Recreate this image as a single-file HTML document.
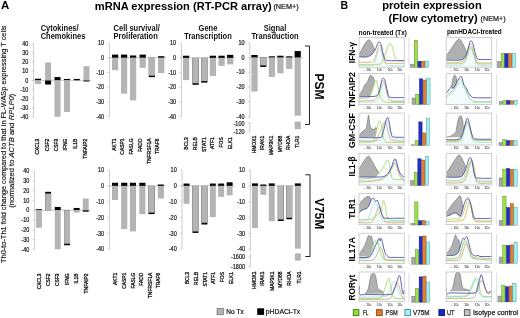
<!DOCTYPE html>
<html><head><meta charset="utf-8"><style>
html,body{margin:0;padding:0;background:#fff;width:520px;height:318px;overflow:hidden}
svg{display:block;font-family:"Liberation Sans", sans-serif}
</style></head><body>
<div style="width:520px;height:318px;will-change:transform"><svg width="520" height="318" viewBox="0 0 520 318">
<g>
<rect width="520" height="318" fill="#fff"/>
<text x="1.00" y="9.10" font-size="11.5" font-weight="bold" text-anchor="start" fill="#000">A</text>
<text x="94.80" y="9.60" font-size="11" font-weight="bold" text-anchor="start" fill="#000" textLength="177.00" lengthAdjust="spacingAndGlyphs">mRNA expression (RT-PCR array)</text>
<text x="273.40" y="9.40" font-size="6.3" text-anchor="start" fill="#222" stroke="#222" stroke-width="0.2" textLength="25.40" lengthAdjust="spacingAndGlyphs">(NEM+)</text>
<text x="340.40" y="9.20" font-size="10.5" font-weight="bold" text-anchor="start" fill="#000">B</text>
<text x="382.20" y="8.50" font-size="11" font-weight="bold" text-anchor="start" fill="#000" textLength="99.50" lengthAdjust="spacingAndGlyphs">protein expression</text>
<text x="388.60" y="21.80" font-size="11" font-weight="bold" text-anchor="start" fill="#000" textLength="89.00" lengthAdjust="spacingAndGlyphs">(Flow cytometry)</text>
<text x="480.60" y="21.40" font-size="6.3" text-anchor="start" fill="#222" stroke="#222" stroke-width="0.2" textLength="25.00" lengthAdjust="spacingAndGlyphs">(NEM+)</text>
<text x="5.60" y="263.00" font-size="7.2" text-anchor="start" fill="#111" stroke="#111" stroke-width="0.15" transform="rotate(-90 5.60 263.00)" textLength="237.50" lengthAdjust="spacingAndGlyphs">Th0-to-Th1 fold change compared to that in FL-WASp expressing T cells</text>
<text x="13.6" y="207.7" font-size="7.2" fill="#111" stroke="#111" stroke-width="0.15" transform="rotate(-90 13.6 207.7)" textLength="114" lengthAdjust="spacingAndGlyphs">(normalized to <tspan font-style="italic">ACTB</tspan> and <tspan font-style="italic">RPLP0</tspan>)</text>
<text x="40.70" y="30.50" font-size="8.2" font-weight="bold" text-anchor="start" fill="#111" textLength="37.94" lengthAdjust="spacingAndGlyphs">Cytokines/</text>
<text x="40.70" y="39.20" font-size="8.2" font-weight="bold" text-anchor="start" fill="#111" textLength="44.62" lengthAdjust="spacingAndGlyphs">Chemokines</text>
<text x="113.60" y="30.50" font-size="8.2" font-weight="bold" text-anchor="start" fill="#111" textLength="46.29" lengthAdjust="spacingAndGlyphs">Cell survival/</text>
<text x="113.60" y="39.20" font-size="8.2" font-weight="bold" text-anchor="start" fill="#111" textLength="44.19" lengthAdjust="spacingAndGlyphs">Proliferation</text>
<text x="208.00" y="30.50" font-size="8.2" font-weight="bold" text-anchor="middle" fill="#111" textLength="18.76" lengthAdjust="spacingAndGlyphs">Gene</text>
<text x="208.00" y="39.20" font-size="8.2" font-weight="bold" text-anchor="middle" fill="#111" textLength="47.53" lengthAdjust="spacingAndGlyphs">Transcription</text>
<text x="275.00" y="30.50" font-size="8.2" font-weight="bold" text-anchor="middle" fill="#111" textLength="22.51" lengthAdjust="spacingAndGlyphs">Signal</text>
<text x="275.00" y="39.20" font-size="8.2" font-weight="bold" text-anchor="middle" fill="#111" textLength="47.11" lengthAdjust="spacingAndGlyphs">Transduction</text>
<line x1="33.60" y1="43.62" x2="33.60" y2="116.98" stroke="#b8b8b8" stroke-width="0.7"/>
<line x1="31.60" y1="43.62" x2="33.60" y2="43.62" stroke="#b8b8b8" stroke-width="0.6"/>
<text x="28.30" y="45.82" font-size="6.3" text-anchor="end" fill="#111" stroke="#111" stroke-width="0.18" textLength="6.10" lengthAdjust="spacingAndGlyphs">40</text>
<line x1="31.60" y1="52.79" x2="33.60" y2="52.79" stroke="#b8b8b8" stroke-width="0.6"/>
<text x="28.30" y="54.99" font-size="6.3" text-anchor="end" fill="#111" stroke="#111" stroke-width="0.18" textLength="6.10" lengthAdjust="spacingAndGlyphs">30</text>
<line x1="31.60" y1="61.96" x2="33.60" y2="61.96" stroke="#b8b8b8" stroke-width="0.6"/>
<text x="28.30" y="64.16" font-size="6.3" text-anchor="end" fill="#111" stroke="#111" stroke-width="0.18" textLength="6.10" lengthAdjust="spacingAndGlyphs">20</text>
<line x1="31.60" y1="71.13" x2="33.60" y2="71.13" stroke="#b8b8b8" stroke-width="0.6"/>
<text x="28.30" y="73.33" font-size="6.3" text-anchor="end" fill="#111" stroke="#111" stroke-width="0.18" textLength="6.10" lengthAdjust="spacingAndGlyphs">10</text>
<line x1="31.60" y1="80.30" x2="33.60" y2="80.30" stroke="#b8b8b8" stroke-width="0.6"/>
<text x="28.30" y="82.50" font-size="6.3" text-anchor="end" fill="#111" stroke="#111" stroke-width="0.18" textLength="3.05" lengthAdjust="spacingAndGlyphs">0</text>
<line x1="31.60" y1="89.47" x2="33.60" y2="89.47" stroke="#b8b8b8" stroke-width="0.6"/>
<text x="28.30" y="91.67" font-size="6.3" text-anchor="end" fill="#111" stroke="#111" stroke-width="0.18" textLength="7.92" lengthAdjust="spacingAndGlyphs">-10</text>
<line x1="31.60" y1="98.64" x2="33.60" y2="98.64" stroke="#b8b8b8" stroke-width="0.6"/>
<text x="28.30" y="100.84" font-size="6.3" text-anchor="end" fill="#111" stroke="#111" stroke-width="0.18" textLength="7.92" lengthAdjust="spacingAndGlyphs">-20</text>
<line x1="31.60" y1="107.81" x2="33.60" y2="107.81" stroke="#b8b8b8" stroke-width="0.6"/>
<text x="28.30" y="110.01" font-size="6.3" text-anchor="end" fill="#111" stroke="#111" stroke-width="0.18" textLength="7.92" lengthAdjust="spacingAndGlyphs">-30</text>
<line x1="31.60" y1="116.98" x2="33.60" y2="116.98" stroke="#b8b8b8" stroke-width="0.6"/>
<text x="28.30" y="119.18" font-size="6.3" text-anchor="end" fill="#111" stroke="#111" stroke-width="0.18" textLength="7.92" lengthAdjust="spacingAndGlyphs">-40</text>
<line x1="33.60" y1="80.30" x2="91.50" y2="80.30" stroke="#a0a0a0" stroke-width="0.6"/>
<rect x="35.00" y="78.74" width="6.00" height="1.56" fill="#000"/>
<rect x="35.00" y="80.30" width="6.00" height="3.67" fill="#b4b4b4"/>
<rect x="45.10" y="80.30" width="6.00" height="4.22" fill="#000"/>
<rect x="45.10" y="62.42" width="6.00" height="17.88" fill="#b4b4b4"/>
<rect x="54.50" y="77.09" width="6.00" height="3.21" fill="#000"/>
<rect x="54.50" y="80.30" width="6.00" height="36.50" fill="#b4b4b4"/>
<rect x="64.00" y="78.92" width="6.00" height="1.38" fill="#000"/>
<rect x="64.00" y="80.30" width="6.00" height="31.64" fill="#b4b4b4"/>
<rect x="73.80" y="78.92" width="6.00" height="1.38" fill="#000"/>
<rect x="73.80" y="80.30" width="6.00" height="0.00" fill="#b4b4b4"/>
<rect x="83.50" y="80.30" width="6.00" height="1.19" fill="#000"/>
<rect x="83.50" y="66.18" width="6.00" height="14.12" fill="#b4b4b4"/>
<text x="39.45" y="138.70" font-size="5.6" text-anchor="end" fill="#111" stroke="#111" stroke-width="0.3" transform="rotate(-90 39.45 138.70)" textLength="15.89" lengthAdjust="spacingAndGlyphs">CXCL3</text>
<text x="48.65" y="138.70" font-size="5.6" text-anchor="end" fill="#111" stroke="#111" stroke-width="0.3" transform="rotate(-90 48.65 138.70)" textLength="12.60" lengthAdjust="spacingAndGlyphs">CSF2</text>
<text x="58.25" y="138.70" font-size="5.6" text-anchor="end" fill="#111" stroke="#111" stroke-width="0.3" transform="rotate(-90 58.25 138.70)" textLength="12.60" lengthAdjust="spacingAndGlyphs">CSF3</text>
<text x="67.35" y="138.70" font-size="5.6" text-anchor="end" fill="#111" stroke="#111" stroke-width="0.3" transform="rotate(-90 67.35 138.70)" textLength="11.77" lengthAdjust="spacingAndGlyphs">IFNG</text>
<text x="77.15" y="138.70" font-size="5.6" text-anchor="end" fill="#111" stroke="#111" stroke-width="0.3" transform="rotate(-90 77.15 138.70)" textLength="10.14" lengthAdjust="spacingAndGlyphs">IL1B</text>
<text x="86.55" y="138.70" font-size="5.6" text-anchor="end" fill="#111" stroke="#111" stroke-width="0.3" transform="rotate(-90 86.55 138.70)" textLength="19.99" lengthAdjust="spacingAndGlyphs">TNFAIP2</text>
<line x1="109.40" y1="43.12" x2="109.40" y2="116.52" stroke="#b8b8b8" stroke-width="0.7"/>
<line x1="107.40" y1="43.12" x2="109.40" y2="43.12" stroke="#b8b8b8" stroke-width="0.6"/>
<text x="104.10" y="45.32" font-size="6.3" text-anchor="end" fill="#111" stroke="#111" stroke-width="0.18" textLength="6.10" lengthAdjust="spacingAndGlyphs">10</text>
<line x1="107.40" y1="57.80" x2="109.40" y2="57.80" stroke="#b8b8b8" stroke-width="0.6"/>
<text x="104.10" y="60.00" font-size="6.3" text-anchor="end" fill="#111" stroke="#111" stroke-width="0.18" textLength="3.05" lengthAdjust="spacingAndGlyphs">0</text>
<line x1="107.40" y1="72.48" x2="109.40" y2="72.48" stroke="#b8b8b8" stroke-width="0.6"/>
<text x="104.10" y="74.68" font-size="6.3" text-anchor="end" fill="#111" stroke="#111" stroke-width="0.18" textLength="7.92" lengthAdjust="spacingAndGlyphs">-10</text>
<line x1="107.40" y1="87.16" x2="109.40" y2="87.16" stroke="#b8b8b8" stroke-width="0.6"/>
<text x="104.10" y="89.36" font-size="6.3" text-anchor="end" fill="#111" stroke="#111" stroke-width="0.18" textLength="7.92" lengthAdjust="spacingAndGlyphs">-20</text>
<line x1="107.40" y1="101.84" x2="109.40" y2="101.84" stroke="#b8b8b8" stroke-width="0.6"/>
<text x="104.10" y="104.04" font-size="6.3" text-anchor="end" fill="#111" stroke="#111" stroke-width="0.18" textLength="7.92" lengthAdjust="spacingAndGlyphs">-30</text>
<line x1="107.40" y1="116.52" x2="109.40" y2="116.52" stroke="#b8b8b8" stroke-width="0.6"/>
<text x="104.10" y="118.72" font-size="6.3" text-anchor="end" fill="#111" stroke="#111" stroke-width="0.18" textLength="7.92" lengthAdjust="spacingAndGlyphs">-40</text>
<line x1="109.40" y1="57.80" x2="166.30" y2="57.80" stroke="#a0a0a0" stroke-width="0.6"/>
<rect x="112.00" y="54.61" width="6.20" height="3.19" fill="#000"/>
<rect x="112.00" y="57.80" width="6.20" height="12.34" fill="#b4b4b4"/>
<rect x="121.00" y="54.61" width="6.20" height="3.19" fill="#000"/>
<rect x="121.00" y="57.80" width="6.20" height="35.86" fill="#b4b4b4"/>
<rect x="130.00" y="55.48" width="6.20" height="2.32" fill="#000"/>
<rect x="130.00" y="57.80" width="6.20" height="42.54" fill="#b4b4b4"/>
<rect x="139.60" y="54.61" width="6.20" height="3.19" fill="#000"/>
<rect x="139.60" y="57.80" width="6.20" height="10.02" fill="#b4b4b4"/>
<rect x="148.80" y="57.80" width="6.20" height="19.36" fill="#000"/>
<rect x="148.80" y="57.80" width="6.20" height="17.86" fill="#b4b4b4"/>
<rect x="158.10" y="56.20" width="6.20" height="1.60" fill="#000"/>
<rect x="158.10" y="57.80" width="6.20" height="15.25" fill="#b4b4b4"/>
<text x="115.75" y="138.50" font-size="5.6" text-anchor="end" fill="#111" stroke="#111" stroke-width="0.3" transform="rotate(-90 115.75 138.50)" textLength="12.32" lengthAdjust="spacingAndGlyphs">AKT1</text>
<text x="124.25" y="138.50" font-size="5.6" text-anchor="end" fill="#111" stroke="#111" stroke-width="0.3" transform="rotate(-90 124.25 138.50)" textLength="16.16" lengthAdjust="spacingAndGlyphs">CASP1</text>
<text x="132.95" y="138.50" font-size="5.6" text-anchor="end" fill="#111" stroke="#111" stroke-width="0.3" transform="rotate(-90 132.95 138.50)" textLength="15.89" lengthAdjust="spacingAndGlyphs">FASLG</text>
<text x="141.65" y="138.50" font-size="5.6" text-anchor="end" fill="#111" stroke="#111" stroke-width="0.3" transform="rotate(-90 141.65 138.50)" textLength="13.14" lengthAdjust="spacingAndGlyphs">FADD</text>
<text x="150.75" y="138.50" font-size="5.6" text-anchor="end" fill="#111" stroke="#111" stroke-width="0.3" transform="rotate(-90 150.75 138.50)" textLength="25.46" lengthAdjust="spacingAndGlyphs">TNFRSF1A</text>
<text x="159.45" y="138.50" font-size="5.6" text-anchor="end" fill="#111" stroke="#111" stroke-width="0.3" transform="rotate(-90 159.45 138.50)" textLength="15.61" lengthAdjust="spacingAndGlyphs">TRAF6</text>
<line x1="181.40" y1="43.22" x2="181.40" y2="116.62" stroke="#b8b8b8" stroke-width="0.7"/>
<line x1="179.40" y1="43.22" x2="181.40" y2="43.22" stroke="#b8b8b8" stroke-width="0.6"/>
<text x="176.10" y="45.42" font-size="6.3" text-anchor="end" fill="#111" stroke="#111" stroke-width="0.18" textLength="6.10" lengthAdjust="spacingAndGlyphs">10</text>
<line x1="179.40" y1="57.90" x2="181.40" y2="57.90" stroke="#b8b8b8" stroke-width="0.6"/>
<text x="176.10" y="60.10" font-size="6.3" text-anchor="end" fill="#111" stroke="#111" stroke-width="0.18" textLength="3.05" lengthAdjust="spacingAndGlyphs">0</text>
<line x1="179.40" y1="72.58" x2="181.40" y2="72.58" stroke="#b8b8b8" stroke-width="0.6"/>
<text x="176.10" y="74.78" font-size="6.3" text-anchor="end" fill="#111" stroke="#111" stroke-width="0.18" textLength="7.92" lengthAdjust="spacingAndGlyphs">-10</text>
<line x1="179.40" y1="87.26" x2="181.40" y2="87.26" stroke="#b8b8b8" stroke-width="0.6"/>
<text x="176.10" y="89.46" font-size="6.3" text-anchor="end" fill="#111" stroke="#111" stroke-width="0.18" textLength="7.92" lengthAdjust="spacingAndGlyphs">-20</text>
<line x1="179.40" y1="101.94" x2="181.40" y2="101.94" stroke="#b8b8b8" stroke-width="0.6"/>
<text x="176.10" y="104.14" font-size="6.3" text-anchor="end" fill="#111" stroke="#111" stroke-width="0.18" textLength="7.92" lengthAdjust="spacingAndGlyphs">-30</text>
<line x1="179.40" y1="116.62" x2="181.40" y2="116.62" stroke="#b8b8b8" stroke-width="0.6"/>
<text x="176.10" y="118.82" font-size="6.3" text-anchor="end" fill="#111" stroke="#111" stroke-width="0.18" textLength="7.92" lengthAdjust="spacingAndGlyphs">-40</text>
<line x1="181.40" y1="57.90" x2="235.30" y2="57.90" stroke="#a0a0a0" stroke-width="0.6"/>
<rect x="183.00" y="55.72" width="6.20" height="2.18" fill="#000"/>
<rect x="183.00" y="57.90" width="6.20" height="22.22" fill="#b4b4b4"/>
<rect x="192.50" y="57.90" width="6.20" height="26.91" fill="#000"/>
<rect x="192.50" y="57.90" width="6.20" height="25.41" fill="#b4b4b4"/>
<rect x="201.20" y="57.90" width="6.20" height="24.73" fill="#000"/>
<rect x="201.20" y="57.90" width="6.20" height="23.23" fill="#b4b4b4"/>
<rect x="209.80" y="55.72" width="6.20" height="2.18" fill="#000"/>
<rect x="209.80" y="57.90" width="6.20" height="18.15" fill="#b4b4b4"/>
<rect x="218.50" y="55.72" width="6.20" height="2.18" fill="#000"/>
<rect x="218.50" y="57.90" width="6.20" height="7.99" fill="#b4b4b4"/>
<rect x="227.10" y="54.85" width="6.20" height="3.05" fill="#000"/>
<rect x="227.10" y="57.90" width="6.20" height="6.53" fill="#b4b4b4"/>
<text x="188.35" y="137.30" font-size="5.6" text-anchor="end" fill="#111" stroke="#111" stroke-width="0.3" transform="rotate(-90 188.35 137.30)" textLength="12.33" lengthAdjust="spacingAndGlyphs">BCL3</text>
<text x="196.55" y="137.30" font-size="5.6" text-anchor="end" fill="#111" stroke="#111" stroke-width="0.3" transform="rotate(-90 196.55 137.30)" textLength="12.87" lengthAdjust="spacingAndGlyphs">RELB</text>
<text x="205.55" y="137.30" font-size="5.6" text-anchor="end" fill="#111" stroke="#111" stroke-width="0.3" transform="rotate(-90 205.55 137.30)" textLength="14.60" lengthAdjust="spacingAndGlyphs">STAT1</text>
<text x="213.85" y="137.30" font-size="5.6" text-anchor="end" fill="#111" stroke="#111" stroke-width="0.3" transform="rotate(-90 213.85 137.30)" textLength="11.68" lengthAdjust="spacingAndGlyphs">ATF1</text>
<text x="222.85" y="137.30" font-size="5.6" text-anchor="end" fill="#111" stroke="#111" stroke-width="0.3" transform="rotate(-90 222.85 137.30)" textLength="10.13" lengthAdjust="spacingAndGlyphs">FOS</text>
<text x="231.95" y="137.30" font-size="5.6" text-anchor="end" fill="#111" stroke="#111" stroke-width="0.3" transform="rotate(-90 231.95 137.30)" textLength="12.06" lengthAdjust="spacingAndGlyphs">ELK1</text>
<line x1="249.80" y1="42.92" x2="249.80" y2="118.82" stroke="#b8b8b8" stroke-width="0.7"/>
<line x1="247.80" y1="42.92" x2="249.80" y2="42.92" stroke="#b8b8b8" stroke-width="0.6"/>
<text x="244.50" y="45.12" font-size="6.3" text-anchor="end" fill="#111" stroke="#111" stroke-width="0.18" textLength="6.10" lengthAdjust="spacingAndGlyphs">10</text>
<line x1="247.80" y1="57.60" x2="249.80" y2="57.60" stroke="#b8b8b8" stroke-width="0.6"/>
<text x="244.50" y="59.80" font-size="6.3" text-anchor="end" fill="#111" stroke="#111" stroke-width="0.18" textLength="3.05" lengthAdjust="spacingAndGlyphs">0</text>
<line x1="247.80" y1="72.28" x2="249.80" y2="72.28" stroke="#b8b8b8" stroke-width="0.6"/>
<text x="244.50" y="74.48" font-size="6.3" text-anchor="end" fill="#111" stroke="#111" stroke-width="0.18" textLength="7.92" lengthAdjust="spacingAndGlyphs">-10</text>
<line x1="247.80" y1="86.96" x2="249.80" y2="86.96" stroke="#b8b8b8" stroke-width="0.6"/>
<text x="244.50" y="89.16" font-size="6.3" text-anchor="end" fill="#111" stroke="#111" stroke-width="0.18" textLength="7.92" lengthAdjust="spacingAndGlyphs">-20</text>
<line x1="247.80" y1="101.64" x2="249.80" y2="101.64" stroke="#b8b8b8" stroke-width="0.6"/>
<text x="244.50" y="103.84" font-size="6.3" text-anchor="end" fill="#111" stroke="#111" stroke-width="0.18" textLength="7.92" lengthAdjust="spacingAndGlyphs">-30</text>
<line x1="247.80" y1="116.32" x2="249.80" y2="116.32" stroke="#b8b8b8" stroke-width="0.6"/>
<text x="244.50" y="118.52" font-size="6.3" text-anchor="end" fill="#111" stroke="#111" stroke-width="0.18" textLength="7.92" lengthAdjust="spacingAndGlyphs">-40</text>
<line x1="249.80" y1="57.60" x2="302.80" y2="57.60" stroke="#a0a0a0" stroke-width="0.6"/>
<rect x="251.40" y="54.99" width="6.20" height="2.61" fill="#000"/>
<rect x="251.40" y="57.60" width="6.20" height="33.98" fill="#b4b4b4"/>
<rect x="260.20" y="57.60" width="6.20" height="9.34" fill="#000"/>
<rect x="260.20" y="57.60" width="6.20" height="7.84" fill="#b4b4b4"/>
<rect x="268.80" y="56.29" width="6.20" height="1.31" fill="#000"/>
<rect x="268.80" y="57.60" width="6.20" height="19.31" fill="#b4b4b4"/>
<rect x="277.30" y="55.71" width="6.20" height="1.89" fill="#000"/>
<rect x="277.30" y="57.60" width="6.20" height="15.68" fill="#b4b4b4"/>
<rect x="286.10" y="56.29" width="6.20" height="1.31" fill="#000"/>
<rect x="286.10" y="57.60" width="6.20" height="11.33" fill="#b4b4b4"/>
<rect x="294.60" y="51.07" width="6.20" height="6.53" fill="#000"/>
<rect x="294.60" y="57.60" width="6.20" height="58.08" fill="#b4b4b4"/>
<line x1="249.80" y1="121.60" x2="249.80" y2="131.80" stroke="#b8b8b8" stroke-width="0.7"/>
<line x1="247.80" y1="123.30" x2="249.80" y2="123.30" stroke="#b8b8b8" stroke-width="0.6"/>
<text x="244.50" y="125.50" font-size="6.3" text-anchor="end" fill="#111" stroke="#111" stroke-width="0.18" textLength="10.97" lengthAdjust="spacingAndGlyphs">-100</text>
<line x1="247.80" y1="131.80" x2="249.80" y2="131.80" stroke="#b8b8b8" stroke-width="0.6"/>
<text x="244.50" y="134.00" font-size="6.3" text-anchor="end" fill="#111" stroke="#111" stroke-width="0.18" textLength="10.97" lengthAdjust="spacingAndGlyphs">-120</text>
<rect x="294.60" y="121.60" width="6.20" height="7.60" fill="#b4b4b4"/>
<text x="255.75" y="135.80" font-size="5.6" text-anchor="end" fill="#111" stroke="#111" stroke-width="0.3" transform="rotate(-90 255.75 135.80)" textLength="17.52" lengthAdjust="spacingAndGlyphs">HMOX1</text>
<text x="264.45" y="135.80" font-size="5.6" text-anchor="end" fill="#111" stroke="#111" stroke-width="0.3" transform="rotate(-90 264.45 135.80)" textLength="14.24" lengthAdjust="spacingAndGlyphs">IRAK1</text>
<text x="273.05" y="135.80" font-size="5.6" text-anchor="end" fill="#111" stroke="#111" stroke-width="0.3" transform="rotate(-90 273.05 135.80)" textLength="19.45" lengthAdjust="spacingAndGlyphs">MAP3K1</text>
<text x="281.75" y="135.80" font-size="5.6" text-anchor="end" fill="#111" stroke="#111" stroke-width="0.3" transform="rotate(-90 281.75 135.80)" textLength="16.43" lengthAdjust="spacingAndGlyphs">MYD88</text>
<text x="290.35" y="135.80" font-size="5.6" text-anchor="end" fill="#111" stroke="#111" stroke-width="0.3" transform="rotate(-90 290.35 135.80)" textLength="14.24" lengthAdjust="spacingAndGlyphs">RHOA</text>
<text x="299.05" y="135.80" font-size="5.6" text-anchor="end" fill="#111" stroke="#111" stroke-width="0.3" transform="rotate(-90 299.05 135.80)" textLength="12.05" lengthAdjust="spacingAndGlyphs">TLR1</text>
<line x1="34.60" y1="171.08" x2="34.60" y2="249.32" stroke="#b8b8b8" stroke-width="0.7"/>
<line x1="32.60" y1="171.08" x2="34.60" y2="171.08" stroke="#b8b8b8" stroke-width="0.6"/>
<text x="29.30" y="173.28" font-size="6.3" text-anchor="end" fill="#111" stroke="#111" stroke-width="0.18" textLength="6.10" lengthAdjust="spacingAndGlyphs">40</text>
<line x1="32.60" y1="180.86" x2="34.60" y2="180.86" stroke="#b8b8b8" stroke-width="0.6"/>
<text x="29.30" y="183.06" font-size="6.3" text-anchor="end" fill="#111" stroke="#111" stroke-width="0.18" textLength="6.10" lengthAdjust="spacingAndGlyphs">30</text>
<line x1="32.60" y1="190.64" x2="34.60" y2="190.64" stroke="#b8b8b8" stroke-width="0.6"/>
<text x="29.30" y="192.84" font-size="6.3" text-anchor="end" fill="#111" stroke="#111" stroke-width="0.18" textLength="6.10" lengthAdjust="spacingAndGlyphs">20</text>
<line x1="32.60" y1="200.42" x2="34.60" y2="200.42" stroke="#b8b8b8" stroke-width="0.6"/>
<text x="29.30" y="202.62" font-size="6.3" text-anchor="end" fill="#111" stroke="#111" stroke-width="0.18" textLength="6.10" lengthAdjust="spacingAndGlyphs">10</text>
<line x1="32.60" y1="210.20" x2="34.60" y2="210.20" stroke="#b8b8b8" stroke-width="0.6"/>
<text x="29.30" y="212.40" font-size="6.3" text-anchor="end" fill="#111" stroke="#111" stroke-width="0.18" textLength="3.05" lengthAdjust="spacingAndGlyphs">0</text>
<line x1="32.60" y1="219.98" x2="34.60" y2="219.98" stroke="#b8b8b8" stroke-width="0.6"/>
<text x="29.30" y="222.18" font-size="6.3" text-anchor="end" fill="#111" stroke="#111" stroke-width="0.18" textLength="7.92" lengthAdjust="spacingAndGlyphs">-10</text>
<line x1="32.60" y1="229.76" x2="34.60" y2="229.76" stroke="#b8b8b8" stroke-width="0.6"/>
<text x="29.30" y="231.96" font-size="6.3" text-anchor="end" fill="#111" stroke="#111" stroke-width="0.18" textLength="7.92" lengthAdjust="spacingAndGlyphs">-20</text>
<line x1="32.60" y1="239.54" x2="34.60" y2="239.54" stroke="#b8b8b8" stroke-width="0.6"/>
<text x="29.30" y="241.74" font-size="6.3" text-anchor="end" fill="#111" stroke="#111" stroke-width="0.18" textLength="7.92" lengthAdjust="spacingAndGlyphs">-30</text>
<line x1="32.60" y1="249.32" x2="34.60" y2="249.32" stroke="#b8b8b8" stroke-width="0.6"/>
<text x="29.30" y="251.52" font-size="6.3" text-anchor="end" fill="#111" stroke="#111" stroke-width="0.18" textLength="7.92" lengthAdjust="spacingAndGlyphs">-40</text>
<line x1="34.60" y1="210.20" x2="90.70" y2="210.20" stroke="#a0a0a0" stroke-width="0.6"/>
<rect x="36.00" y="209.22" width="5.90" height="0.98" fill="#000"/>
<rect x="36.00" y="210.20" width="5.90" height="17.60" fill="#b4b4b4"/>
<rect x="45.20" y="191.81" width="5.90" height="18.39" fill="#000"/>
<rect x="45.20" y="193.57" width="5.90" height="16.63" fill="#b4b4b4"/>
<rect x="54.80" y="206.97" width="5.90" height="3.23" fill="#000"/>
<rect x="54.80" y="210.20" width="5.90" height="39.12" fill="#b4b4b4"/>
<rect x="64.10" y="210.20" width="5.90" height="35.05" fill="#000"/>
<rect x="64.10" y="210.20" width="5.90" height="33.55" fill="#b4b4b4"/>
<rect x="73.70" y="207.95" width="5.90" height="2.25" fill="#000"/>
<rect x="73.70" y="210.20" width="5.90" height="2.44" fill="#b4b4b4"/>
<rect x="82.80" y="210.20" width="5.90" height="1.47" fill="#000"/>
<rect x="82.80" y="198.56" width="5.90" height="11.64" fill="#b4b4b4"/>
<text x="40.55" y="273.40" font-size="5.6" text-anchor="end" fill="#111" stroke="#111" stroke-width="0.3" transform="rotate(-90 40.55 273.40)" textLength="15.89" lengthAdjust="spacingAndGlyphs">CXCL3</text>
<text x="49.85" y="273.40" font-size="5.6" text-anchor="end" fill="#111" stroke="#111" stroke-width="0.3" transform="rotate(-90 49.85 273.40)" textLength="12.60" lengthAdjust="spacingAndGlyphs">CSF2</text>
<text x="59.35" y="273.40" font-size="5.6" text-anchor="end" fill="#111" stroke="#111" stroke-width="0.3" transform="rotate(-90 59.35 273.40)" textLength="12.60" lengthAdjust="spacingAndGlyphs">CSF3</text>
<text x="68.85" y="273.40" font-size="5.6" text-anchor="end" fill="#111" stroke="#111" stroke-width="0.3" transform="rotate(-90 68.85 273.40)" textLength="11.77" lengthAdjust="spacingAndGlyphs">IFNG</text>
<text x="78.05" y="273.40" font-size="5.6" text-anchor="end" fill="#111" stroke="#111" stroke-width="0.3" transform="rotate(-90 78.05 273.40)" textLength="10.14" lengthAdjust="spacingAndGlyphs">IL1B</text>
<text x="87.95" y="273.40" font-size="5.6" text-anchor="end" fill="#111" stroke="#111" stroke-width="0.3" transform="rotate(-90 87.95 273.40)" textLength="19.99" lengthAdjust="spacingAndGlyphs">TNFAIP2</text>
<line x1="109.40" y1="170.07" x2="109.40" y2="249.22" stroke="#b8b8b8" stroke-width="0.7"/>
<line x1="107.40" y1="170.07" x2="109.40" y2="170.07" stroke="#b8b8b8" stroke-width="0.6"/>
<text x="104.10" y="172.27" font-size="6.3" text-anchor="end" fill="#111" stroke="#111" stroke-width="0.18" textLength="6.10" lengthAdjust="spacingAndGlyphs">10</text>
<line x1="107.40" y1="185.90" x2="109.40" y2="185.90" stroke="#b8b8b8" stroke-width="0.6"/>
<text x="104.10" y="188.10" font-size="6.3" text-anchor="end" fill="#111" stroke="#111" stroke-width="0.18" textLength="3.05" lengthAdjust="spacingAndGlyphs">0</text>
<line x1="107.40" y1="201.73" x2="109.40" y2="201.73" stroke="#b8b8b8" stroke-width="0.6"/>
<text x="104.10" y="203.93" font-size="6.3" text-anchor="end" fill="#111" stroke="#111" stroke-width="0.18" textLength="7.92" lengthAdjust="spacingAndGlyphs">-10</text>
<line x1="107.40" y1="217.56" x2="109.40" y2="217.56" stroke="#b8b8b8" stroke-width="0.6"/>
<text x="104.10" y="219.76" font-size="6.3" text-anchor="end" fill="#111" stroke="#111" stroke-width="0.18" textLength="7.92" lengthAdjust="spacingAndGlyphs">-20</text>
<line x1="107.40" y1="233.39" x2="109.40" y2="233.39" stroke="#b8b8b8" stroke-width="0.6"/>
<text x="104.10" y="235.59" font-size="6.3" text-anchor="end" fill="#111" stroke="#111" stroke-width="0.18" textLength="7.92" lengthAdjust="spacingAndGlyphs">-30</text>
<line x1="107.40" y1="249.22" x2="109.40" y2="249.22" stroke="#b8b8b8" stroke-width="0.6"/>
<text x="104.10" y="251.42" font-size="6.3" text-anchor="end" fill="#111" stroke="#111" stroke-width="0.18" textLength="7.92" lengthAdjust="spacingAndGlyphs">-40</text>
<line x1="109.40" y1="185.90" x2="165.90" y2="185.90" stroke="#a0a0a0" stroke-width="0.6"/>
<rect x="112.00" y="182.76" width="6.10" height="3.14" fill="#000"/>
<rect x="112.00" y="185.90" width="6.10" height="14.13" fill="#b4b4b4"/>
<rect x="121.20" y="182.76" width="6.10" height="3.14" fill="#000"/>
<rect x="121.20" y="185.90" width="6.10" height="43.18" fill="#b4b4b4"/>
<rect x="129.90" y="182.76" width="6.10" height="3.14" fill="#000"/>
<rect x="129.90" y="185.90" width="6.10" height="45.53" fill="#b4b4b4"/>
<rect x="139.30" y="182.76" width="6.10" height="3.14" fill="#000"/>
<rect x="139.30" y="185.90" width="6.10" height="28.26" fill="#b4b4b4"/>
<rect x="148.50" y="185.90" width="6.10" height="28.19" fill="#000"/>
<rect x="148.50" y="185.90" width="6.10" height="26.69" fill="#b4b4b4"/>
<rect x="157.80" y="184.49" width="6.10" height="1.41" fill="#000"/>
<rect x="157.80" y="185.90" width="6.10" height="12.56" fill="#b4b4b4"/>
<text x="117.25" y="272.70" font-size="5.6" text-anchor="end" fill="#111" stroke="#111" stroke-width="0.3" transform="rotate(-90 117.25 272.70)" textLength="12.32" lengthAdjust="spacingAndGlyphs">AKT1</text>
<text x="125.55" y="272.70" font-size="5.6" text-anchor="end" fill="#111" stroke="#111" stroke-width="0.3" transform="rotate(-90 125.55 272.70)" textLength="16.16" lengthAdjust="spacingAndGlyphs">CASP1</text>
<text x="134.55" y="272.70" font-size="5.6" text-anchor="end" fill="#111" stroke="#111" stroke-width="0.3" transform="rotate(-90 134.55 272.70)" textLength="15.89" lengthAdjust="spacingAndGlyphs">FASLG</text>
<text x="143.15" y="272.70" font-size="5.6" text-anchor="end" fill="#111" stroke="#111" stroke-width="0.3" transform="rotate(-90 143.15 272.70)" textLength="13.14" lengthAdjust="spacingAndGlyphs">FADD</text>
<text x="151.85" y="272.70" font-size="5.6" text-anchor="end" fill="#111" stroke="#111" stroke-width="0.3" transform="rotate(-90 151.85 272.70)" textLength="25.46" lengthAdjust="spacingAndGlyphs">TNFRSF1A</text>
<text x="160.45" y="272.70" font-size="5.6" text-anchor="end" fill="#111" stroke="#111" stroke-width="0.3" transform="rotate(-90 160.45 272.70)" textLength="15.61" lengthAdjust="spacingAndGlyphs">TRAF6</text>
<line x1="182.00" y1="170.07" x2="182.00" y2="249.22" stroke="#b8b8b8" stroke-width="0.7"/>
<line x1="180.00" y1="170.07" x2="182.00" y2="170.07" stroke="#b8b8b8" stroke-width="0.6"/>
<text x="176.70" y="172.27" font-size="6.3" text-anchor="end" fill="#111" stroke="#111" stroke-width="0.18" textLength="6.10" lengthAdjust="spacingAndGlyphs">10</text>
<line x1="180.00" y1="185.90" x2="182.00" y2="185.90" stroke="#b8b8b8" stroke-width="0.6"/>
<text x="176.70" y="188.10" font-size="6.3" text-anchor="end" fill="#111" stroke="#111" stroke-width="0.18" textLength="3.05" lengthAdjust="spacingAndGlyphs">0</text>
<line x1="180.00" y1="201.73" x2="182.00" y2="201.73" stroke="#b8b8b8" stroke-width="0.6"/>
<text x="176.70" y="203.93" font-size="6.3" text-anchor="end" fill="#111" stroke="#111" stroke-width="0.18" textLength="7.92" lengthAdjust="spacingAndGlyphs">-10</text>
<line x1="180.00" y1="217.56" x2="182.00" y2="217.56" stroke="#b8b8b8" stroke-width="0.6"/>
<text x="176.70" y="219.76" font-size="6.3" text-anchor="end" fill="#111" stroke="#111" stroke-width="0.18" textLength="7.92" lengthAdjust="spacingAndGlyphs">-20</text>
<line x1="180.00" y1="233.39" x2="182.00" y2="233.39" stroke="#b8b8b8" stroke-width="0.6"/>
<text x="176.70" y="235.59" font-size="6.3" text-anchor="end" fill="#111" stroke="#111" stroke-width="0.18" textLength="7.92" lengthAdjust="spacingAndGlyphs">-30</text>
<line x1="180.00" y1="249.22" x2="182.00" y2="249.22" stroke="#b8b8b8" stroke-width="0.6"/>
<text x="176.70" y="251.42" font-size="6.3" text-anchor="end" fill="#111" stroke="#111" stroke-width="0.18" textLength="7.92" lengthAdjust="spacingAndGlyphs">-40</text>
<line x1="182.00" y1="185.90" x2="234.60" y2="185.90" stroke="#a0a0a0" stroke-width="0.6"/>
<rect x="183.60" y="183.55" width="5.90" height="2.35" fill="#000"/>
<rect x="183.60" y="185.90" width="5.90" height="17.90" fill="#b4b4b4"/>
<rect x="192.50" y="185.90" width="5.90" height="47.03" fill="#000"/>
<rect x="192.50" y="185.90" width="5.90" height="45.53" fill="#b4b4b4"/>
<rect x="201.50" y="185.90" width="5.90" height="38.62" fill="#000"/>
<rect x="201.50" y="185.90" width="5.90" height="36.90" fill="#b4b4b4"/>
<rect x="209.90" y="183.55" width="5.90" height="2.35" fill="#000"/>
<rect x="209.90" y="185.90" width="5.90" height="31.24" fill="#b4b4b4"/>
<rect x="218.20" y="183.55" width="5.90" height="2.35" fill="#000"/>
<rect x="218.20" y="185.90" width="5.90" height="10.99" fill="#b4b4b4"/>
<rect x="226.70" y="182.29" width="5.90" height="3.61" fill="#000"/>
<rect x="226.70" y="185.90" width="5.90" height="9.42" fill="#b4b4b4"/>
<text x="189.05" y="272.00" font-size="5.6" text-anchor="end" fill="#111" stroke="#111" stroke-width="0.3" transform="rotate(-90 189.05 272.00)" textLength="12.33" lengthAdjust="spacingAndGlyphs">BCL3</text>
<text x="197.55" y="272.00" font-size="5.6" text-anchor="end" fill="#111" stroke="#111" stroke-width="0.3" transform="rotate(-90 197.55 272.00)" textLength="12.87" lengthAdjust="spacingAndGlyphs">RELB</text>
<text x="206.65" y="272.00" font-size="5.6" text-anchor="end" fill="#111" stroke="#111" stroke-width="0.3" transform="rotate(-90 206.65 272.00)" textLength="14.60" lengthAdjust="spacingAndGlyphs">STAT1</text>
<text x="215.35" y="272.00" font-size="5.6" text-anchor="end" fill="#111" stroke="#111" stroke-width="0.3" transform="rotate(-90 215.35 272.00)" textLength="11.68" lengthAdjust="spacingAndGlyphs">ATF1</text>
<text x="224.05" y="272.00" font-size="5.6" text-anchor="end" fill="#111" stroke="#111" stroke-width="0.3" transform="rotate(-90 224.05 272.00)" textLength="10.13" lengthAdjust="spacingAndGlyphs">FOS</text>
<text x="232.95" y="272.00" font-size="5.6" text-anchor="end" fill="#111" stroke="#111" stroke-width="0.3" transform="rotate(-90 232.95 272.00)" textLength="12.06" lengthAdjust="spacingAndGlyphs">ELK1</text>
<line x1="250.30" y1="170.07" x2="250.30" y2="251.72" stroke="#b8b8b8" stroke-width="0.7"/>
<line x1="248.30" y1="170.07" x2="250.30" y2="170.07" stroke="#b8b8b8" stroke-width="0.6"/>
<text x="245.00" y="172.27" font-size="6.3" text-anchor="end" fill="#111" stroke="#111" stroke-width="0.18" textLength="6.10" lengthAdjust="spacingAndGlyphs">10</text>
<line x1="248.30" y1="185.90" x2="250.30" y2="185.90" stroke="#b8b8b8" stroke-width="0.6"/>
<text x="245.00" y="188.10" font-size="6.3" text-anchor="end" fill="#111" stroke="#111" stroke-width="0.18" textLength="3.05" lengthAdjust="spacingAndGlyphs">0</text>
<line x1="248.30" y1="201.73" x2="250.30" y2="201.73" stroke="#b8b8b8" stroke-width="0.6"/>
<text x="245.00" y="203.93" font-size="6.3" text-anchor="end" fill="#111" stroke="#111" stroke-width="0.18" textLength="7.92" lengthAdjust="spacingAndGlyphs">-10</text>
<line x1="248.30" y1="217.56" x2="250.30" y2="217.56" stroke="#b8b8b8" stroke-width="0.6"/>
<text x="245.00" y="219.76" font-size="6.3" text-anchor="end" fill="#111" stroke="#111" stroke-width="0.18" textLength="7.92" lengthAdjust="spacingAndGlyphs">-20</text>
<line x1="248.30" y1="233.39" x2="250.30" y2="233.39" stroke="#b8b8b8" stroke-width="0.6"/>
<text x="245.00" y="235.59" font-size="6.3" text-anchor="end" fill="#111" stroke="#111" stroke-width="0.18" textLength="7.92" lengthAdjust="spacingAndGlyphs">-30</text>
<line x1="248.30" y1="249.22" x2="250.30" y2="249.22" stroke="#b8b8b8" stroke-width="0.6"/>
<text x="245.00" y="251.42" font-size="6.3" text-anchor="end" fill="#111" stroke="#111" stroke-width="0.18" textLength="7.92" lengthAdjust="spacingAndGlyphs">-40</text>
<line x1="250.30" y1="185.90" x2="302.80" y2="185.90" stroke="#a0a0a0" stroke-width="0.6"/>
<rect x="252.00" y="183.39" width="5.90" height="2.51" fill="#000"/>
<rect x="252.00" y="185.90" width="5.90" height="42.08" fill="#b4b4b4"/>
<rect x="260.40" y="184.49" width="5.90" height="1.41" fill="#000"/>
<rect x="260.40" y="185.90" width="5.90" height="8.95" fill="#b4b4b4"/>
<rect x="268.80" y="183.39" width="5.90" height="2.51" fill="#000"/>
<rect x="268.80" y="185.90" width="5.90" height="35.33" fill="#b4b4b4"/>
<rect x="277.80" y="185.90" width="5.90" height="35.10" fill="#000"/>
<rect x="277.80" y="185.90" width="5.90" height="33.60" fill="#b4b4b4"/>
<rect x="286.30" y="185.90" width="5.90" height="33.37" fill="#000"/>
<rect x="286.30" y="185.90" width="5.90" height="31.87" fill="#b4b4b4"/>
<rect x="294.90" y="183.39" width="5.90" height="2.51" fill="#000"/>
<rect x="294.90" y="185.90" width="5.90" height="62.80" fill="#b4b4b4"/>
<line x1="250.30" y1="253.40" x2="250.30" y2="266.70" stroke="#b8b8b8" stroke-width="0.7"/>
<line x1="248.30" y1="257.10" x2="250.30" y2="257.10" stroke="#b8b8b8" stroke-width="0.6"/>
<text x="245.00" y="259.30" font-size="6.3" text-anchor="end" fill="#111" stroke="#111" stroke-width="0.18" textLength="14.02" lengthAdjust="spacingAndGlyphs">-1600</text>
<line x1="248.30" y1="266.70" x2="250.30" y2="266.70" stroke="#b8b8b8" stroke-width="0.6"/>
<text x="245.00" y="268.90" font-size="6.3" text-anchor="end" fill="#111" stroke="#111" stroke-width="0.18" textLength="14.02" lengthAdjust="spacingAndGlyphs">-1800</text>
<rect x="294.90" y="253.40" width="5.90" height="7.20" fill="#b4b4b4"/>
<text x="256.15" y="271.40" font-size="5.6" text-anchor="end" fill="#111" stroke="#111" stroke-width="0.3" transform="rotate(-90 256.15 271.40)" textLength="17.52" lengthAdjust="spacingAndGlyphs">HMOX1</text>
<text x="264.35" y="271.40" font-size="5.6" text-anchor="end" fill="#111" stroke="#111" stroke-width="0.3" transform="rotate(-90 264.35 271.40)" textLength="14.24" lengthAdjust="spacingAndGlyphs">IRAK1</text>
<text x="273.55" y="271.40" font-size="5.6" text-anchor="end" fill="#111" stroke="#111" stroke-width="0.3" transform="rotate(-90 273.55 271.40)" textLength="19.45" lengthAdjust="spacingAndGlyphs">MAP3K1</text>
<text x="282.15" y="271.40" font-size="5.6" text-anchor="end" fill="#111" stroke="#111" stroke-width="0.3" transform="rotate(-90 282.15 271.40)" textLength="16.43" lengthAdjust="spacingAndGlyphs">MYD88</text>
<text x="291.35" y="271.40" font-size="5.6" text-anchor="end" fill="#111" stroke="#111" stroke-width="0.3" transform="rotate(-90 291.35 271.40)" textLength="14.24" lengthAdjust="spacingAndGlyphs">RHOA</text>
<text x="300.55" y="271.40" font-size="5.6" text-anchor="end" fill="#111" stroke="#111" stroke-width="0.3" transform="rotate(-90 300.55 271.40)" textLength="12.05" lengthAdjust="spacingAndGlyphs">TLR1</text>
<path d="M305 46 H309.5 V124.5 H305" fill="none" stroke="#222" stroke-width="1"/>
<path d="M305.3 174.8 H310 V256.5 H305.3" fill="none" stroke="#222" stroke-width="1"/>
<text x="314.50" y="86.50" font-size="12.2" font-weight="bold" text-anchor="middle" fill="#000" transform="rotate(90 314.50 86.50)" textLength="26.00" lengthAdjust="spacingAndGlyphs">PSM</text>
<text x="314.50" y="213.80" font-size="12.2" font-weight="bold" text-anchor="middle" fill="#000" transform="rotate(90 314.50 213.80)" textLength="31.00" lengthAdjust="spacingAndGlyphs">V75M</text>
<rect x="217.10" y="308.50" width="6.20" height="6.20" fill="#b4b4b4" stroke="#777" stroke-width="0.8"/>
<text x="226.30" y="313.90" font-size="6.8" text-anchor="start" fill="#111" stroke="#111" stroke-width="0.2" textLength="17.40" lengthAdjust="spacingAndGlyphs">No Tx</text>
<rect x="257.20" y="308.30" width="6.90" height="6.60" fill="#000"/>
<text x="265.80" y="313.90" font-size="6.8" text-anchor="start" fill="#111" stroke="#111" stroke-width="0.2" textLength="34.40" lengthAdjust="spacingAndGlyphs">pHDACi-Tx</text>
<text x="358.80" y="35.00" font-size="6.3" font-weight="bold" text-anchor="start" fill="#000" textLength="48.00" lengthAdjust="spacingAndGlyphs">non-treated (Tx)</text>
<text x="446.90" y="34.00" font-size="6.3" font-weight="bold" text-anchor="start" fill="#000" textLength="54.80" lengthAdjust="spacingAndGlyphs">panHDACi-treated</text>
<text x="355.40" y="63.20" font-size="9.2" font-weight="bold" text-anchor="start" fill="#000" transform="rotate(-90 355.40 63.20)" textLength="21.20" lengthAdjust="spacingAndGlyphs">IFN-γ</text>
<text x="355.40" y="108.00" font-size="9.2" font-weight="bold" text-anchor="start" fill="#000" transform="rotate(-90 355.40 108.00)" textLength="35.80" lengthAdjust="spacingAndGlyphs">TNFAIP2</text>
<text x="355.40" y="148.20" font-size="9.2" font-weight="bold" text-anchor="start" fill="#000" transform="rotate(-90 355.40 148.20)" textLength="35.30" lengthAdjust="spacingAndGlyphs">GM-CSF</text>
<text x="355.40" y="176.40" font-size="9.2" font-weight="bold" text-anchor="start" fill="#000" transform="rotate(-90 355.40 176.40)" textLength="20.10" lengthAdjust="spacingAndGlyphs">IL1-β</text>
<text x="355.40" y="218.40" font-size="9.2" font-weight="bold" text-anchor="start" fill="#000" transform="rotate(-90 355.40 218.40)" textLength="19.40" lengthAdjust="spacingAndGlyphs">TLR1</text>
<text x="355.40" y="261.40" font-size="9.2" font-weight="bold" text-anchor="start" fill="#000" transform="rotate(-90 355.40 261.40)" textLength="24.40" lengthAdjust="spacingAndGlyphs">IL17A</text>
<text x="355.40" y="300.40" font-size="9.2" font-weight="bold" text-anchor="start" fill="#000" transform="rotate(-90 355.40 300.40)" textLength="25.60" lengthAdjust="spacingAndGlyphs">RORγt</text>
<clipPath id="cn0"><rect x="359.0" y="37.6" width="45.30000000000001" height="29.6"/></clipPath>
<rect x="359.0" y="37.6" width="45.30000000000001" height="29.6" fill="#fff"/>
<g clip-path="url(#cn0)">
<path d="M359.00 54.50 C359.50 53.58 361.00 50.83 362.00 49.00 C363.00 47.17 363.87 45.05 365.00 43.50 C366.13 41.95 367.63 39.70 368.80 39.70 C369.97 39.70 370.97 41.70 372.00 43.50 C373.03 45.30 374.00 48.50 375.00 50.50 C376.00 52.50 377.00 54.37 378.00 55.50 C379.00 56.63 380.50 57.00 381.00 57.30 L381.00 57.50 L359.00 57.50 Z" fill="#b0b0b0" stroke="none"/>
<path d="M359.00 54.50 C359.50 53.58 361.00 50.83 362.00 49.00 C363.00 47.17 363.87 45.05 365.00 43.50 C366.13 41.95 367.63 39.70 368.80 39.70 C369.97 39.70 370.97 41.70 372.00 43.50 C373.03 45.30 374.00 48.50 375.00 50.50 C376.00 52.50 377.00 54.37 378.00 55.50 C379.00 56.63 380.50 57.00 381.00 57.30" fill="none" stroke="#6e6e6e" stroke-width="0.6"/>
<path d="M359.00 56.80 C360.17 56.83 364.00 57.30 366.00 57.00 C368.00 56.70 369.50 56.17 371.00 55.00 C372.50 53.83 373.92 51.83 375.00 50.00 C376.08 48.17 376.77 45.35 377.50 44.00 C378.23 42.65 378.73 41.57 379.40 41.90 C380.07 42.23 380.90 44.07 381.50 46.00 C382.10 47.93 382.42 51.33 383.00 53.50 C383.58 55.67 384.17 57.82 385.00 59.00 C385.83 60.18 384.75 60.33 388.00 60.60 C391.25 60.87 401.75 60.60 404.50 60.60 L404.50 69.20 L359.00 69.20 Z" fill="#ffffff" stroke="none"/>
<path d="M359.00 62.30 C360.83 62.30 367.50 62.68 370.00 62.30 C372.50 61.92 372.92 61.55 374.00 60.00 C375.08 58.45 375.75 55.25 376.50 53.00 C377.25 50.75 377.98 47.83 378.50 46.50 C379.02 45.17 379.18 44.92 379.60 45.00 C380.02 45.08 380.52 45.67 381.00 47.00 C381.48 48.33 381.92 50.83 382.50 53.00 C383.08 55.17 383.75 58.28 384.50 60.00 C385.25 61.72 383.67 62.75 387.00 63.30 C390.33 63.85 401.58 63.30 404.50 63.30 L404.50 69.20 L359.00 69.20 Z" fill="#ffffff" stroke="none"/>
<path d="M359.00 64.60 C362.33 64.57 375.08 65.00 379.00 64.40 C382.92 63.80 381.42 62.90 382.50 61.00 C383.58 59.10 384.58 55.50 385.50 53.00 C386.42 50.50 387.25 47.57 388.00 46.00 C388.75 44.43 389.33 43.60 390.00 43.60 C390.67 43.60 391.33 44.43 392.00 46.00 C392.67 47.57 393.33 50.83 394.00 53.00 C394.67 55.17 395.17 57.70 396.00 59.00 C396.83 60.30 397.58 60.50 399.00 60.80 C400.42 61.10 403.58 60.80 404.50 60.80 L404.50 69.20 L359.00 69.20 Z" fill="#fcfff8" stroke="none"/>
<path d="M359.00 65.30 C361.17 65.28 369.33 65.75 372.00 65.20 C374.67 64.65 374.08 64.03 375.00 62.00 C375.92 59.97 376.73 55.25 377.50 53.00 C378.27 50.75 378.93 48.67 379.60 48.50 C380.27 48.33 380.85 50.25 381.50 52.00 C382.15 53.75 382.75 57.00 383.50 59.00 C384.25 61.00 384.92 62.90 386.00 64.00 C387.08 65.10 386.92 65.33 390.00 65.60 C393.08 65.87 402.08 65.60 404.50 65.60 L404.50 69.20 L359.00 69.20 Z" fill="#f3fbfb" stroke="none"/>
<path d="M359.00 65.30 C361.17 65.28 369.33 65.75 372.00 65.20 C374.67 64.65 374.08 64.03 375.00 62.00 C375.92 59.97 376.73 55.25 377.50 53.00 C378.27 50.75 378.93 48.67 379.60 48.50 C380.27 48.33 380.85 50.25 381.50 52.00 C382.15 53.75 382.75 57.00 383.50 59.00 C384.25 61.00 384.92 62.90 386.00 64.00 C387.08 65.10 386.92 65.33 390.00 65.60 C393.08 65.87 402.08 65.60 404.50 65.60" fill="none" stroke="#9ee2e6" stroke-width="0.8"/>
<path d="M359.00 62.30 C360.83 62.30 367.50 62.68 370.00 62.30 C372.50 61.92 372.92 61.55 374.00 60.00 C375.08 58.45 375.75 55.25 376.50 53.00 C377.25 50.75 377.98 47.83 378.50 46.50 C379.02 45.17 379.18 44.92 379.60 45.00 C380.02 45.08 380.52 45.67 381.00 47.00 C381.48 48.33 381.92 50.83 382.50 53.00 C383.08 55.17 383.75 58.28 384.50 60.00 C385.25 61.72 383.67 62.75 387.00 63.30 C390.33 63.85 401.58 63.30 404.50 63.30" fill="none" stroke="#e3a468" stroke-width="0.8"/>
<path d="M359.00 64.60 C362.33 64.57 375.08 65.00 379.00 64.40 C382.92 63.80 381.42 62.90 382.50 61.00 C383.58 59.10 384.58 55.50 385.50 53.00 C386.42 50.50 387.25 47.57 388.00 46.00 C388.75 44.43 389.33 43.60 390.00 43.60 C390.67 43.60 391.33 44.43 392.00 46.00 C392.67 47.57 393.33 50.83 394.00 53.00 C394.67 55.17 395.17 57.70 396.00 59.00 C396.83 60.30 397.58 60.50 399.00 60.80 C400.42 61.10 403.58 60.80 404.50 60.80" fill="none" stroke="#9fd466" stroke-width="0.8"/>
<path d="M359.00 56.80 C360.17 56.83 364.00 57.30 366.00 57.00 C368.00 56.70 369.50 56.17 371.00 55.00 C372.50 53.83 373.92 51.83 375.00 50.00 C376.08 48.17 376.77 45.35 377.50 44.00 C378.23 42.65 378.73 41.57 379.40 41.90 C380.07 42.23 380.90 44.07 381.50 46.00 C382.10 47.93 382.42 51.33 383.00 53.50 C383.58 55.67 384.17 57.82 385.00 59.00 C385.83 60.18 384.75 60.33 388.00 60.60 C391.25 60.87 401.75 60.60 404.50 60.60" fill="none" stroke="#3a3aa8" stroke-width="0.8"/>
</g>
<rect x="359.0" y="37.6" width="45.30000000000001" height="29.6" fill="none" stroke="#c4c4c4" stroke-width="0.8"/>
<text x="364.21" y="71.10" font-size="3.8" fill="#555" text-anchor="middle">-</text>
<text x="368.74" y="71.10" font-size="3.5" fill="#555" stroke="#555" stroke-width="0.1" text-anchor="middle">10³</text>
<text x="379.38" y="71.10" font-size="3.5" fill="#555" stroke="#555" stroke-width="0.1" text-anchor="middle">10³</text>
<text x="390.03" y="71.10" font-size="3.5" fill="#555" stroke="#555" stroke-width="0.1" text-anchor="middle">10³</text>
<text x="399.77" y="71.10" font-size="3.5" fill="#555" stroke="#555" stroke-width="0.1" text-anchor="middle">10³</text>
<clipPath id="ct0"><rect x="446.2" y="37.6" width="45.5" height="29.6"/></clipPath>
<rect x="446.2" y="37.6" width="45.5" height="29.6" fill="#fff"/>
<g clip-path="url(#ct0)">
<path d="M446.00 56.00 C446.67 55.08 448.67 52.42 450.00 50.50 C451.33 48.58 452.48 46.42 454.00 44.50 C455.52 42.58 457.60 39.08 459.10 39.00 C460.60 38.92 461.85 42.00 463.00 44.00 C464.15 46.00 465.08 48.83 466.00 51.00 C466.92 53.17 467.75 55.57 468.50 57.00 C469.25 58.43 470.17 59.17 470.50 59.60 L470.50 59.80 L446.00 59.80 Z" fill="#b0b0b0" stroke="none"/>
<path d="M446.00 56.00 C446.67 55.08 448.67 52.42 450.00 50.50 C451.33 48.58 452.48 46.42 454.00 44.50 C455.52 42.58 457.60 39.08 459.10 39.00 C460.60 38.92 461.85 42.00 463.00 44.00 C464.15 46.00 465.08 48.83 466.00 51.00 C466.92 53.17 467.75 55.57 468.50 57.00 C469.25 58.43 470.17 59.17 470.50 59.60" fill="none" stroke="#6e6e6e" stroke-width="0.6"/>
<path d="M446.00 60.20 C448.33 60.17 457.00 60.28 460.00 60.00 C463.00 59.72 462.92 59.50 464.00 58.50 C465.08 57.50 465.75 55.92 466.50 54.00 C467.25 52.08 467.92 49.00 468.50 47.00 C469.08 45.00 469.58 43.03 470.00 42.00 C470.42 40.97 470.58 40.72 471.00 40.80 C471.42 40.88 472.00 41.30 472.50 42.50 C473.00 43.70 473.50 46.08 474.00 48.00 C474.50 49.92 474.92 52.17 475.50 54.00 C476.08 55.83 476.75 58.08 477.50 59.00 C478.25 59.92 477.58 59.42 480.00 59.50 C482.42 59.58 490.00 59.50 492.00 59.50 L492.00 69.20 L446.00 69.20 Z" fill="#ffffff" stroke="none"/>
<path d="M446.00 63.60 C448.50 63.57 457.83 63.92 461.00 63.40 C464.17 62.88 463.83 62.40 465.00 60.50 C466.17 58.60 467.12 54.33 468.00 52.00 C468.88 49.67 469.55 46.83 470.30 46.50 C471.05 46.17 471.72 48.08 472.50 50.00 C473.28 51.92 474.08 55.75 475.00 58.00 C475.92 60.25 475.17 62.53 478.00 63.50 C480.83 64.47 489.67 63.75 492.00 63.80 L492.00 69.20 L446.00 69.20 Z" fill="#ffffff" stroke="none"/>
<path d="M446.00 62.30 C448.33 62.25 457.00 62.38 460.00 62.00 C463.00 61.62 462.92 61.17 464.00 60.00 C465.08 58.83 465.75 57.00 466.50 55.00 C467.25 53.00 467.87 49.92 468.50 48.00 C469.13 46.08 469.63 43.67 470.30 43.50 C470.97 43.33 471.72 44.92 472.50 47.00 C473.28 49.08 474.08 53.42 475.00 56.00 C475.92 58.58 475.17 61.38 478.00 62.50 C480.83 63.62 489.67 62.67 492.00 62.70 L492.00 69.20 L446.00 69.20 Z" fill="#fcfff8" stroke="none"/>
<path d="M446.00 65.20 C448.50 65.17 457.83 65.53 461.00 65.00 C464.17 64.47 463.83 63.83 465.00 62.00 C466.17 60.17 467.12 56.25 468.00 54.00 C468.88 51.75 469.55 48.83 470.30 48.50 C471.05 48.17 471.72 50.08 472.50 52.00 C473.28 53.92 474.08 57.83 475.00 60.00 C475.92 62.17 475.17 64.10 478.00 65.00 C480.83 65.90 489.67 65.33 492.00 65.40 L492.00 69.20 L446.00 69.20 Z" fill="#f3fbfb" stroke="none"/>
<path d="M446.00 65.20 C448.50 65.17 457.83 65.53 461.00 65.00 C464.17 64.47 463.83 63.83 465.00 62.00 C466.17 60.17 467.12 56.25 468.00 54.00 C468.88 51.75 469.55 48.83 470.30 48.50 C471.05 48.17 471.72 50.08 472.50 52.00 C473.28 53.92 474.08 57.83 475.00 60.00 C475.92 62.17 475.17 64.10 478.00 65.00 C480.83 65.90 489.67 65.33 492.00 65.40" fill="none" stroke="#9ee2e6" stroke-width="0.8"/>
<path d="M446.00 63.60 C448.50 63.57 457.83 63.92 461.00 63.40 C464.17 62.88 463.83 62.40 465.00 60.50 C466.17 58.60 467.12 54.33 468.00 52.00 C468.88 49.67 469.55 46.83 470.30 46.50 C471.05 46.17 471.72 48.08 472.50 50.00 C473.28 51.92 474.08 55.75 475.00 58.00 C475.92 60.25 475.17 62.53 478.00 63.50 C480.83 64.47 489.67 63.75 492.00 63.80" fill="none" stroke="#e3a468" stroke-width="0.8"/>
<path d="M446.00 62.30 C448.33 62.25 457.00 62.38 460.00 62.00 C463.00 61.62 462.92 61.17 464.00 60.00 C465.08 58.83 465.75 57.00 466.50 55.00 C467.25 53.00 467.87 49.92 468.50 48.00 C469.13 46.08 469.63 43.67 470.30 43.50 C470.97 43.33 471.72 44.92 472.50 47.00 C473.28 49.08 474.08 53.42 475.00 56.00 C475.92 58.58 475.17 61.38 478.00 62.50 C480.83 63.62 489.67 62.67 492.00 62.70" fill="none" stroke="#9fd466" stroke-width="0.8"/>
<path d="M446.00 60.20 C448.33 60.17 457.00 60.28 460.00 60.00 C463.00 59.72 462.92 59.50 464.00 58.50 C465.08 57.50 465.75 55.92 466.50 54.00 C467.25 52.08 467.92 49.00 468.50 47.00 C469.08 45.00 469.58 43.03 470.00 42.00 C470.42 40.97 470.58 40.72 471.00 40.80 C471.42 40.88 472.00 41.30 472.50 42.50 C473.00 43.70 473.50 46.08 474.00 48.00 C474.50 49.92 474.92 52.17 475.50 54.00 C476.08 55.83 476.75 58.08 477.50 59.00 C478.25 59.92 477.58 59.42 480.00 59.50 C482.42 59.58 490.00 59.50 492.00 59.50" fill="none" stroke="#3a3aa8" stroke-width="0.8"/>
</g>
<rect x="446.2" y="37.6" width="45.5" height="29.6" fill="none" stroke="#c4c4c4" stroke-width="0.8"/>
<text x="451.43" y="71.10" font-size="3.8" fill="#555" text-anchor="middle">-</text>
<text x="455.98" y="71.10" font-size="3.5" fill="#555" stroke="#555" stroke-width="0.1" text-anchor="middle">10³</text>
<text x="466.68" y="71.10" font-size="3.5" fill="#555" stroke="#555" stroke-width="0.1" text-anchor="middle">10³</text>
<text x="477.37" y="71.10" font-size="3.5" fill="#555" stroke="#555" stroke-width="0.1" text-anchor="middle">10³</text>
<text x="487.15" y="71.10" font-size="3.5" fill="#555" stroke="#555" stroke-width="0.1" text-anchor="middle">10³</text>
<clipPath id="cn1"><rect x="359.0" y="73.6" width="45.30000000000001" height="31.0"/></clipPath>
<rect x="359.0" y="73.6" width="45.30000000000001" height="31.0" fill="#fff"/>
<g clip-path="url(#cn1)">
<path d="M359.00 95.50 C359.33 95.00 360.33 93.58 361.00 92.50 C361.67 91.42 362.42 90.17 363.00 89.00 C363.58 87.83 364.00 86.42 364.50 85.50 C365.00 84.58 365.50 84.08 366.00 83.50 C366.50 82.92 367.08 82.75 367.50 82.00 C367.92 81.25 368.08 80.00 368.50 79.00 C368.92 78.00 369.58 76.63 370.00 76.00 C370.42 75.37 370.65 74.90 371.00 75.20 C371.35 75.50 371.73 77.53 372.10 77.80 C372.47 78.07 372.85 76.35 373.20 76.80 C373.55 77.25 373.90 79.13 374.20 80.50 C374.50 81.87 374.73 83.42 375.00 85.00 C375.27 86.58 375.55 88.33 375.80 90.00 C376.05 91.67 376.30 93.83 376.50 95.00 C376.70 96.17 376.92 96.67 377.00 97.00 L377.00 97.50 L359.00 97.50 Z" fill="#b0b0b0" stroke="none"/>
<path d="M359.00 95.50 C359.33 95.00 360.33 93.58 361.00 92.50 C361.67 91.42 362.42 90.17 363.00 89.00 C363.58 87.83 364.00 86.42 364.50 85.50 C365.00 84.58 365.50 84.08 366.00 83.50 C366.50 82.92 367.08 82.75 367.50 82.00 C367.92 81.25 368.08 80.00 368.50 79.00 C368.92 78.00 369.58 76.63 370.00 76.00 C370.42 75.37 370.65 74.90 371.00 75.20 C371.35 75.50 371.73 77.53 372.10 77.80 C372.47 78.07 372.85 76.35 373.20 76.80 C373.55 77.25 373.90 79.13 374.20 80.50 C374.50 81.87 374.73 83.42 375.00 85.00 C375.27 86.58 375.55 88.33 375.80 90.00 C376.05 91.67 376.30 93.83 376.50 95.00 C376.70 96.17 376.92 96.67 377.00 97.00" fill="none" stroke="#6e6e6e" stroke-width="0.6"/>
<path d="M359.00 96.80 C360.83 96.77 367.17 96.73 370.00 96.60 C372.83 96.47 374.58 96.52 376.00 96.00 C377.42 95.48 377.78 95.00 378.50 93.50 C379.22 92.00 379.75 89.17 380.30 87.00 C380.85 84.83 381.32 81.97 381.80 80.50 C382.28 79.03 382.70 78.28 383.20 78.20 C383.70 78.12 384.33 78.87 384.80 80.00 C385.27 81.13 385.55 83.00 386.00 85.00 C386.45 87.00 387.00 90.08 387.50 92.00 C388.00 93.92 388.25 95.57 389.00 96.50 C389.75 97.43 389.42 97.42 392.00 97.60 C394.58 97.78 402.42 97.60 404.50 97.60 L404.50 106.60 L359.00 106.60 Z" fill="#ffffff" stroke="none"/>
<path d="M359.00 101.00 C361.17 100.92 369.17 100.92 372.00 100.50 C374.83 100.08 374.92 99.58 376.00 98.50 C377.08 97.42 377.75 95.92 378.50 94.00 C379.25 92.08 379.92 89.00 380.50 87.00 C381.08 85.00 381.52 83.08 382.00 82.00 C382.48 80.92 382.90 80.17 383.40 80.50 C383.90 80.83 384.40 81.92 385.00 84.00 C385.60 86.08 386.33 90.50 387.00 93.00 C387.67 95.50 388.00 97.58 389.00 99.00 C390.00 100.42 390.42 101.08 393.00 101.50 C395.58 101.92 402.58 101.50 404.50 101.50 L404.50 106.60 L359.00 106.60 Z" fill="#ffffff" stroke="none"/>
<path d="M359.00 98.50 C360.33 98.42 365.17 98.42 367.00 98.00 C368.83 97.58 369.08 97.33 370.00 96.00 C370.92 94.67 371.78 92.00 372.50 90.00 C373.22 88.00 373.77 85.67 374.30 84.00 C374.83 82.33 375.20 80.00 375.70 80.00 C376.20 80.00 376.78 82.17 377.30 84.00 C377.82 85.83 378.27 88.83 378.80 91.00 C379.33 93.17 379.80 95.33 380.50 97.00 C381.20 98.67 381.75 100.12 383.00 101.00 C384.25 101.88 384.42 102.08 388.00 102.30 C391.58 102.52 401.75 102.30 404.50 102.30 L404.50 106.60 L359.00 106.60 Z" fill="#fcfff8" stroke="none"/>
<path d="M359.00 102.00 C361.67 101.92 371.75 102.17 375.00 101.50 C378.25 100.83 377.50 99.92 378.50 98.00 C379.50 96.08 380.17 92.50 381.00 90.00 C381.83 87.50 382.67 83.33 383.50 83.00 C384.33 82.67 385.25 85.83 386.00 88.00 C386.75 90.17 387.17 93.92 388.00 96.00 C388.83 98.08 388.25 99.75 391.00 100.50 C393.75 101.25 402.25 100.50 404.50 100.50 L404.50 106.60 L359.00 106.60 Z" fill="#f3fbfb" stroke="none"/>
<path d="M359.00 102.00 C361.67 101.92 371.75 102.17 375.00 101.50 C378.25 100.83 377.50 99.92 378.50 98.00 C379.50 96.08 380.17 92.50 381.00 90.00 C381.83 87.50 382.67 83.33 383.50 83.00 C384.33 82.67 385.25 85.83 386.00 88.00 C386.75 90.17 387.17 93.92 388.00 96.00 C388.83 98.08 388.25 99.75 391.00 100.50 C393.75 101.25 402.25 100.50 404.50 100.50" fill="none" stroke="#9ee2e6" stroke-width="0.8"/>
<path d="M359.00 101.00 C361.17 100.92 369.17 100.92 372.00 100.50 C374.83 100.08 374.92 99.58 376.00 98.50 C377.08 97.42 377.75 95.92 378.50 94.00 C379.25 92.08 379.92 89.00 380.50 87.00 C381.08 85.00 381.52 83.08 382.00 82.00 C382.48 80.92 382.90 80.17 383.40 80.50 C383.90 80.83 384.40 81.92 385.00 84.00 C385.60 86.08 386.33 90.50 387.00 93.00 C387.67 95.50 388.00 97.58 389.00 99.00 C390.00 100.42 390.42 101.08 393.00 101.50 C395.58 101.92 402.58 101.50 404.50 101.50" fill="none" stroke="#e3a468" stroke-width="0.8"/>
<path d="M359.00 98.50 C360.33 98.42 365.17 98.42 367.00 98.00 C368.83 97.58 369.08 97.33 370.00 96.00 C370.92 94.67 371.78 92.00 372.50 90.00 C373.22 88.00 373.77 85.67 374.30 84.00 C374.83 82.33 375.20 80.00 375.70 80.00 C376.20 80.00 376.78 82.17 377.30 84.00 C377.82 85.83 378.27 88.83 378.80 91.00 C379.33 93.17 379.80 95.33 380.50 97.00 C381.20 98.67 381.75 100.12 383.00 101.00 C384.25 101.88 384.42 102.08 388.00 102.30 C391.58 102.52 401.75 102.30 404.50 102.30" fill="none" stroke="#9fd466" stroke-width="0.8"/>
<path d="M359.00 96.80 C360.83 96.77 367.17 96.73 370.00 96.60 C372.83 96.47 374.58 96.52 376.00 96.00 C377.42 95.48 377.78 95.00 378.50 93.50 C379.22 92.00 379.75 89.17 380.30 87.00 C380.85 84.83 381.32 81.97 381.80 80.50 C382.28 79.03 382.70 78.28 383.20 78.20 C383.70 78.12 384.33 78.87 384.80 80.00 C385.27 81.13 385.55 83.00 386.00 85.00 C386.45 87.00 387.00 90.08 387.50 92.00 C388.00 93.92 388.25 95.57 389.00 96.50 C389.75 97.43 389.42 97.42 392.00 97.60 C394.58 97.78 402.42 97.60 404.50 97.60" fill="none" stroke="#3a3aa8" stroke-width="0.8"/>
</g>
<rect x="359.0" y="73.6" width="45.30000000000001" height="31.0" fill="none" stroke="#c4c4c4" stroke-width="0.8"/>
<text x="364.21" y="108.50" font-size="3.8" fill="#555" text-anchor="middle">-</text>
<text x="368.74" y="108.50" font-size="3.5" fill="#555" stroke="#555" stroke-width="0.1" text-anchor="middle">10³</text>
<text x="379.38" y="108.50" font-size="3.5" fill="#555" stroke="#555" stroke-width="0.1" text-anchor="middle">10³</text>
<text x="390.03" y="108.50" font-size="3.5" fill="#555" stroke="#555" stroke-width="0.1" text-anchor="middle">10³</text>
<text x="399.77" y="108.50" font-size="3.5" fill="#555" stroke="#555" stroke-width="0.1" text-anchor="middle">10³</text>
<clipPath id="ct1"><rect x="446.2" y="73.6" width="45.5" height="31.0"/></clipPath>
<rect x="446.2" y="73.6" width="45.5" height="31.0" fill="#fff"/>
<g clip-path="url(#ct1)">
<path d="M450.50 92.00 C450.67 91.08 451.17 88.42 451.50 86.50 C451.83 84.58 452.17 82.17 452.50 80.50 C452.83 78.83 453.17 77.38 453.50 76.50 C453.83 75.62 454.17 75.35 454.50 75.20 C454.83 75.05 455.17 75.05 455.50 75.60 C455.83 76.15 456.17 77.27 456.50 78.50 C456.83 79.73 457.17 81.42 457.50 83.00 C457.83 84.58 458.17 86.50 458.50 88.00 C458.83 89.50 459.33 91.33 459.50 92.00 L459.50 92.00 L450.50 92.00 Z" fill="#b0b0b0" stroke="none"/>
<path d="M450.50 92.00 C450.67 91.08 451.17 88.42 451.50 86.50 C451.83 84.58 452.17 82.17 452.50 80.50 C452.83 78.83 453.17 77.38 453.50 76.50 C453.83 75.62 454.17 75.35 454.50 75.20 C454.83 75.05 455.17 75.05 455.50 75.60 C455.83 76.15 456.17 77.27 456.50 78.50 C456.83 79.73 457.17 81.42 457.50 83.00 C457.83 84.58 458.17 86.50 458.50 88.00 C458.83 89.50 459.33 91.33 459.50 92.00" fill="none" stroke="#6e6e6e" stroke-width="0.6"/>
<path d="M446.00 93.30 C446.33 92.92 447.33 91.80 448.00 91.00 C448.67 90.20 449.42 89.25 450.00 88.50 C450.58 87.75 451.08 86.50 451.50 86.50 C451.92 86.50 452.08 88.33 452.50 88.50 C452.92 88.67 453.50 88.08 454.00 87.50 C454.50 86.92 455.00 86.00 455.50 85.00 C456.00 84.00 456.50 82.50 457.00 81.50 C457.50 80.50 458.00 79.78 458.50 79.00 C459.00 78.22 459.55 77.27 460.00 76.80 C460.45 76.33 460.80 75.83 461.20 76.20 C461.60 76.57 462.02 77.70 462.40 79.00 C462.78 80.30 463.07 82.75 463.50 84.00 C463.93 85.25 464.50 85.75 465.00 86.50 C465.50 87.25 466.00 87.58 466.50 88.50 C467.00 89.42 467.42 90.92 468.00 92.00 C468.58 93.08 469.33 94.20 470.00 95.00 C470.67 95.80 471.17 96.33 472.00 96.80 C472.83 97.27 471.67 97.63 475.00 97.80 C478.33 97.97 489.17 97.80 492.00 97.80 L492.00 106.60 L446.00 106.60 Z" fill="#ffffff" stroke="none"/>
<path d="M446.00 96.00 C446.67 95.50 448.67 94.17 450.00 93.00 C451.33 91.83 452.83 90.50 454.00 89.00 C455.17 87.50 456.00 85.67 457.00 84.00 C458.00 82.33 459.00 79.17 460.00 79.00 C461.00 78.83 462.00 81.17 463.00 83.00 C464.00 84.83 465.00 87.83 466.00 90.00 C467.00 92.17 468.00 94.33 469.00 96.00 C470.00 97.67 470.83 99.08 472.00 100.00 C473.17 100.92 472.67 101.25 476.00 101.50 C479.33 101.75 489.33 101.50 492.00 101.50 L492.00 106.60 L446.00 106.60 Z" fill="#fcfff8" stroke="none"/>
<path d="M446.00 97.50 C446.67 97.08 448.67 96.08 450.00 95.00 C451.33 93.92 452.83 92.50 454.00 91.00 C455.17 89.50 456.00 87.50 457.00 86.00 C458.00 84.50 459.00 82.00 460.00 82.00 C461.00 82.00 462.00 84.33 463.00 86.00 C464.00 87.67 465.00 90.00 466.00 92.00 C467.00 94.00 468.00 96.42 469.00 98.00 C470.00 99.58 470.83 100.75 472.00 101.50 C473.17 102.25 472.67 102.33 476.00 102.50 C479.33 102.67 489.33 102.50 492.00 102.50 L492.00 106.60 L446.00 106.60 Z" fill="#f3fbfb" stroke="none"/>
<path d="M446.00 97.50 C446.67 97.08 448.67 96.08 450.00 95.00 C451.33 93.92 452.83 92.50 454.00 91.00 C455.17 89.50 456.00 87.50 457.00 86.00 C458.00 84.50 459.00 82.00 460.00 82.00 C461.00 82.00 462.00 84.33 463.00 86.00 C464.00 87.67 465.00 90.00 466.00 92.00 C467.00 94.00 468.00 96.42 469.00 98.00 C470.00 99.58 470.83 100.75 472.00 101.50 C473.17 102.25 472.67 102.33 476.00 102.50 C479.33 102.67 489.33 102.50 492.00 102.50" fill="none" stroke="#9ee2e6" stroke-width="0.8"/>
<path d="M446.00 96.00 C446.67 95.50 448.67 94.17 450.00 93.00 C451.33 91.83 452.83 90.50 454.00 89.00 C455.17 87.50 456.00 85.67 457.00 84.00 C458.00 82.33 459.00 79.17 460.00 79.00 C461.00 78.83 462.00 81.17 463.00 83.00 C464.00 84.83 465.00 87.83 466.00 90.00 C467.00 92.17 468.00 94.33 469.00 96.00 C470.00 97.67 470.83 99.08 472.00 100.00 C473.17 100.92 472.67 101.25 476.00 101.50 C479.33 101.75 489.33 101.50 492.00 101.50" fill="none" stroke="#9fd466" stroke-width="0.8"/>
<path d="M446.00 93.30 C446.33 92.92 447.33 91.80 448.00 91.00 C448.67 90.20 449.42 89.25 450.00 88.50 C450.58 87.75 451.08 86.50 451.50 86.50 C451.92 86.50 452.08 88.33 452.50 88.50 C452.92 88.67 453.50 88.08 454.00 87.50 C454.50 86.92 455.00 86.00 455.50 85.00 C456.00 84.00 456.50 82.50 457.00 81.50 C457.50 80.50 458.00 79.78 458.50 79.00 C459.00 78.22 459.55 77.27 460.00 76.80 C460.45 76.33 460.80 75.83 461.20 76.20 C461.60 76.57 462.02 77.70 462.40 79.00 C462.78 80.30 463.07 82.75 463.50 84.00 C463.93 85.25 464.50 85.75 465.00 86.50 C465.50 87.25 466.00 87.58 466.50 88.50 C467.00 89.42 467.42 90.92 468.00 92.00 C468.58 93.08 469.33 94.20 470.00 95.00 C470.67 95.80 471.17 96.33 472.00 96.80 C472.83 97.27 471.67 97.63 475.00 97.80 C478.33 97.97 489.17 97.80 492.00 97.80" fill="none" stroke="#3a3aa8" stroke-width="0.8"/>
</g>
<rect x="446.2" y="73.6" width="45.5" height="31.0" fill="none" stroke="#c4c4c4" stroke-width="0.8"/>
<text x="451.43" y="108.50" font-size="3.8" fill="#555" text-anchor="middle">-</text>
<text x="455.98" y="108.50" font-size="3.5" fill="#555" stroke="#555" stroke-width="0.1" text-anchor="middle">10³</text>
<text x="466.68" y="108.50" font-size="3.5" fill="#555" stroke="#555" stroke-width="0.1" text-anchor="middle">10³</text>
<text x="477.37" y="108.50" font-size="3.5" fill="#555" stroke="#555" stroke-width="0.1" text-anchor="middle">10³</text>
<text x="487.15" y="108.50" font-size="3.5" fill="#555" stroke="#555" stroke-width="0.1" text-anchor="middle">10³</text>
<clipPath id="cn2"><rect x="359.0" y="113.1" width="45.30000000000001" height="31.900000000000006"/></clipPath>
<rect x="359.0" y="113.1" width="45.30000000000001" height="31.900000000000006" fill="#fff"/>
<g clip-path="url(#cn2)">
<path d="M359.00 135.50 C359.25 135.17 360.00 134.08 360.50 133.50 C361.00 132.92 361.50 132.50 362.00 132.00 C362.50 131.50 363.00 130.87 363.50 130.50 C364.00 130.13 364.53 130.22 365.00 129.80 C365.47 129.38 365.90 129.30 366.30 128.00 C366.70 126.70 367.03 124.17 367.40 122.00 C367.77 119.83 368.15 115.00 368.50 115.00 C368.85 115.00 369.17 120.00 369.50 122.00 C369.83 124.00 370.08 125.92 370.50 127.00 C370.92 128.08 371.50 128.08 372.00 128.50 C372.50 128.92 373.00 129.48 373.50 129.50 C374.00 129.52 374.58 128.93 375.00 128.60 C375.42 128.27 375.67 127.35 376.00 127.50 C376.33 127.65 376.67 128.92 377.00 129.50 C377.33 130.08 377.67 130.25 378.00 131.00 C378.33 131.75 378.73 133.00 379.00 134.00 C379.27 135.00 379.50 136.50 379.60 137.00 L379.60 137.60 L359.00 137.60 Z" fill="#b0b0b0" stroke="none"/>
<path d="M359.00 135.50 C359.25 135.17 360.00 134.08 360.50 133.50 C361.00 132.92 361.50 132.50 362.00 132.00 C362.50 131.50 363.00 130.87 363.50 130.50 C364.00 130.13 364.53 130.22 365.00 129.80 C365.47 129.38 365.90 129.30 366.30 128.00 C366.70 126.70 367.03 124.17 367.40 122.00 C367.77 119.83 368.15 115.00 368.50 115.00 C368.85 115.00 369.17 120.00 369.50 122.00 C369.83 124.00 370.08 125.92 370.50 127.00 C370.92 128.08 371.50 128.08 372.00 128.50 C372.50 128.92 373.00 129.48 373.50 129.50 C374.00 129.52 374.58 128.93 375.00 128.60 C375.42 128.27 375.67 127.35 376.00 127.50 C376.33 127.65 376.67 128.92 377.00 129.50 C377.33 130.08 377.67 130.25 378.00 131.00 C378.33 131.75 378.73 133.00 379.00 134.00 C379.27 135.00 379.50 136.50 379.60 137.00" fill="none" stroke="#6e6e6e" stroke-width="0.6"/>
<path d="M359.00 137.60 C362.50 137.58 376.08 138.10 380.00 137.50 C383.92 136.90 381.75 135.75 382.50 134.00 C383.25 132.25 383.92 129.25 384.50 127.00 C385.08 124.75 385.52 122.08 386.00 120.50 C386.48 118.92 386.93 117.50 387.40 117.50 C387.87 117.50 388.33 118.75 388.80 120.50 C389.27 122.25 389.75 125.67 390.20 128.00 C390.65 130.33 390.95 133.00 391.50 134.50 C392.05 136.00 391.33 136.53 393.50 137.00 C395.67 137.47 402.67 137.25 404.50 137.30 L404.50 147.00 L359.00 147.00 Z" fill="#ffffff" stroke="none"/>
<path d="M359.00 141.20 C361.67 141.17 371.92 141.53 375.00 141.00 C378.08 140.47 376.67 139.50 377.50 138.00 C378.33 136.50 379.17 134.00 380.00 132.00 C380.83 130.00 381.75 127.67 382.50 126.00 C383.25 124.33 383.92 122.50 384.50 122.00 C385.08 121.50 385.50 121.83 386.00 123.00 C386.50 124.17 386.92 126.67 387.50 129.00 C388.08 131.33 388.75 135.08 389.50 137.00 C390.25 138.92 389.50 139.78 392.00 140.50 C394.50 141.22 402.42 141.17 404.50 141.30 L404.50 147.00 L359.00 147.00 Z" fill="#ffffff" stroke="none"/>
<path d="M359.00 142.20 C361.17 142.17 369.42 142.53 372.00 142.00 C374.58 141.47 373.75 140.83 374.50 139.00 C375.25 137.17 375.92 133.50 376.50 131.00 C377.08 128.50 377.50 125.72 378.00 124.00 C378.50 122.28 379.03 120.95 379.50 120.70 C379.97 120.45 380.38 121.12 380.80 122.50 C381.22 123.88 381.58 126.58 382.00 129.00 C382.42 131.42 382.80 134.92 383.30 137.00 C383.80 139.08 384.22 140.60 385.00 141.50 C385.78 142.40 384.75 142.25 388.00 142.40 C391.25 142.55 401.75 142.40 404.50 142.40 L404.50 147.00 L359.00 147.00 Z" fill="#fcfff8" stroke="none"/>
<path d="M359.00 140.20 C362.33 140.17 375.25 140.87 379.00 140.00 C382.75 139.13 380.75 137.17 381.50 135.00 C382.25 132.83 382.83 129.33 383.50 127.00 C384.17 124.67 384.92 122.25 385.50 121.00 C386.08 119.75 386.50 119.17 387.00 119.50 C387.50 119.83 387.92 120.92 388.50 123.00 C389.08 125.08 389.83 129.50 390.50 132.00 C391.17 134.50 391.75 136.70 392.50 138.00 C393.25 139.30 393.00 139.50 395.00 139.80 C397.00 140.10 402.92 139.80 404.50 139.80 L404.50 147.00 L359.00 147.00 Z" fill="#f3fbfb" stroke="none"/>
<path d="M359.00 140.20 C362.33 140.17 375.25 140.87 379.00 140.00 C382.75 139.13 380.75 137.17 381.50 135.00 C382.25 132.83 382.83 129.33 383.50 127.00 C384.17 124.67 384.92 122.25 385.50 121.00 C386.08 119.75 386.50 119.17 387.00 119.50 C387.50 119.83 387.92 120.92 388.50 123.00 C389.08 125.08 389.83 129.50 390.50 132.00 C391.17 134.50 391.75 136.70 392.50 138.00 C393.25 139.30 393.00 139.50 395.00 139.80 C397.00 140.10 402.92 139.80 404.50 139.80" fill="none" stroke="#9ee2e6" stroke-width="0.8"/>
<path d="M359.00 141.20 C361.67 141.17 371.92 141.53 375.00 141.00 C378.08 140.47 376.67 139.50 377.50 138.00 C378.33 136.50 379.17 134.00 380.00 132.00 C380.83 130.00 381.75 127.67 382.50 126.00 C383.25 124.33 383.92 122.50 384.50 122.00 C385.08 121.50 385.50 121.83 386.00 123.00 C386.50 124.17 386.92 126.67 387.50 129.00 C388.08 131.33 388.75 135.08 389.50 137.00 C390.25 138.92 389.50 139.78 392.00 140.50 C394.50 141.22 402.42 141.17 404.50 141.30" fill="none" stroke="#e3a468" stroke-width="0.8"/>
<path d="M359.00 142.20 C361.17 142.17 369.42 142.53 372.00 142.00 C374.58 141.47 373.75 140.83 374.50 139.00 C375.25 137.17 375.92 133.50 376.50 131.00 C377.08 128.50 377.50 125.72 378.00 124.00 C378.50 122.28 379.03 120.95 379.50 120.70 C379.97 120.45 380.38 121.12 380.80 122.50 C381.22 123.88 381.58 126.58 382.00 129.00 C382.42 131.42 382.80 134.92 383.30 137.00 C383.80 139.08 384.22 140.60 385.00 141.50 C385.78 142.40 384.75 142.25 388.00 142.40 C391.25 142.55 401.75 142.40 404.50 142.40" fill="none" stroke="#9fd466" stroke-width="0.8"/>
<path d="M359.00 137.60 C362.50 137.58 376.08 138.10 380.00 137.50 C383.92 136.90 381.75 135.75 382.50 134.00 C383.25 132.25 383.92 129.25 384.50 127.00 C385.08 124.75 385.52 122.08 386.00 120.50 C386.48 118.92 386.93 117.50 387.40 117.50 C387.87 117.50 388.33 118.75 388.80 120.50 C389.27 122.25 389.75 125.67 390.20 128.00 C390.65 130.33 390.95 133.00 391.50 134.50 C392.05 136.00 391.33 136.53 393.50 137.00 C395.67 137.47 402.67 137.25 404.50 137.30" fill="none" stroke="#3a3aa8" stroke-width="0.8"/>
</g>
<rect x="359.0" y="113.1" width="45.30000000000001" height="31.900000000000006" fill="none" stroke="#c4c4c4" stroke-width="0.8"/>
<text x="364.21" y="148.90" font-size="3.8" fill="#555" text-anchor="middle">-</text>
<text x="368.74" y="148.90" font-size="3.5" fill="#555" stroke="#555" stroke-width="0.1" text-anchor="middle">10³</text>
<text x="379.38" y="148.90" font-size="3.5" fill="#555" stroke="#555" stroke-width="0.1" text-anchor="middle">10³</text>
<text x="390.03" y="148.90" font-size="3.5" fill="#555" stroke="#555" stroke-width="0.1" text-anchor="middle">10³</text>
<text x="399.77" y="148.90" font-size="3.5" fill="#555" stroke="#555" stroke-width="0.1" text-anchor="middle">10³</text>
<clipPath id="ct2"><rect x="446.2" y="113.1" width="45.5" height="31.900000000000006"/></clipPath>
<rect x="446.2" y="113.1" width="45.5" height="31.900000000000006" fill="#fff"/>
<g clip-path="url(#ct2)">
<path d="M446.00 137.00 C446.67 136.90 448.67 136.92 450.00 136.40 C451.33 135.88 453.00 134.73 454.00 133.90 C455.00 133.07 455.42 133.28 456.00 131.40 C456.58 129.52 457.00 124.92 457.50 122.60 C458.00 120.28 458.42 118.65 459.00 117.50 C459.58 116.35 460.42 115.28 461.00 115.70 C461.58 116.12 462.08 117.80 462.50 120.00 C462.92 122.20 463.17 126.37 463.50 128.90 C463.83 131.43 464.17 133.85 464.50 135.20 C464.83 136.55 465.33 136.70 465.50 137.00 L465.50 137.20 L446.00 137.20 Z" fill="#b0b0b0" stroke="none"/>
<path d="M446.00 137.00 C446.67 136.90 448.67 136.92 450.00 136.40 C451.33 135.88 453.00 134.73 454.00 133.90 C455.00 133.07 455.42 133.28 456.00 131.40 C456.58 129.52 457.00 124.92 457.50 122.60 C458.00 120.28 458.42 118.65 459.00 117.50 C459.58 116.35 460.42 115.28 461.00 115.70 C461.58 116.12 462.08 117.80 462.50 120.00 C462.92 122.20 463.17 126.37 463.50 128.90 C463.83 131.43 464.17 133.85 464.50 135.20 C464.83 136.55 465.33 136.70 465.50 137.00" fill="none" stroke="#6e6e6e" stroke-width="0.6"/>
<path d="M446.00 139.60 C448.00 139.57 455.33 140.08 458.00 139.40 C460.67 138.72 460.92 137.57 462.00 135.50 C463.08 133.43 463.83 129.42 464.50 127.00 C465.17 124.58 465.53 122.47 466.00 121.00 C466.47 119.53 466.83 118.20 467.30 118.20 C467.77 118.20 468.27 119.20 468.80 121.00 C469.33 122.80 469.88 126.50 470.50 129.00 C471.12 131.50 471.58 134.33 472.50 136.00 C473.42 137.67 472.75 138.47 476.00 139.00 C479.25 139.53 489.33 139.17 492.00 139.20 L492.00 147.00 L446.00 147.00 Z" fill="#ffffff" stroke="none"/>
<path d="M446.00 140.40 C448.17 140.33 456.33 140.90 459.00 140.00 C461.67 139.10 461.00 137.33 462.00 135.00 C463.00 132.67 464.17 128.08 465.00 126.00 C465.83 123.92 466.25 122.33 467.00 122.50 C467.75 122.67 468.67 124.75 469.50 127.00 C470.33 129.25 471.08 133.87 472.00 136.00 C472.92 138.13 471.67 139.13 475.00 139.80 C478.33 140.47 489.17 139.97 492.00 140.00 L492.00 147.00 L446.00 147.00 Z" fill="#ffffff" stroke="none"/>
<path d="M446.00 141.40 C448.17 141.33 456.33 141.90 459.00 141.00 C461.67 140.10 461.08 138.33 462.00 136.00 C462.92 133.67 463.67 129.50 464.50 127.00 C465.33 124.50 466.25 121.33 467.00 121.00 C467.75 120.67 468.25 122.83 469.00 125.00 C469.75 127.17 470.67 131.50 471.50 134.00 C472.33 136.50 470.58 138.87 474.00 140.00 C477.42 141.13 489.00 140.67 492.00 140.80 L492.00 147.00 L446.00 147.00 Z" fill="#fcfff8" stroke="none"/>
<path d="M446.00 142.50 C448.33 142.42 457.17 143.08 460.00 142.00 C462.83 140.92 462.08 138.33 463.00 136.00 C463.92 133.67 464.75 130.17 465.50 128.00 C466.25 125.83 466.83 123.00 467.50 123.00 C468.17 123.00 468.75 125.67 469.50 128.00 C470.25 130.33 471.08 134.67 472.00 137.00 C472.92 139.33 471.67 141.13 475.00 142.00 C478.33 142.87 489.17 142.17 492.00 142.20 L492.00 147.00 L446.00 147.00 Z" fill="#f3fbfb" stroke="none"/>
<path d="M446.00 142.50 C448.33 142.42 457.17 143.08 460.00 142.00 C462.83 140.92 462.08 138.33 463.00 136.00 C463.92 133.67 464.75 130.17 465.50 128.00 C466.25 125.83 466.83 123.00 467.50 123.00 C468.17 123.00 468.75 125.67 469.50 128.00 C470.25 130.33 471.08 134.67 472.00 137.00 C472.92 139.33 471.67 141.13 475.00 142.00 C478.33 142.87 489.17 142.17 492.00 142.20" fill="none" stroke="#9ee2e6" stroke-width="0.8"/>
<path d="M446.00 140.40 C448.17 140.33 456.33 140.90 459.00 140.00 C461.67 139.10 461.00 137.33 462.00 135.00 C463.00 132.67 464.17 128.08 465.00 126.00 C465.83 123.92 466.25 122.33 467.00 122.50 C467.75 122.67 468.67 124.75 469.50 127.00 C470.33 129.25 471.08 133.87 472.00 136.00 C472.92 138.13 471.67 139.13 475.00 139.80 C478.33 140.47 489.17 139.97 492.00 140.00" fill="none" stroke="#e3a468" stroke-width="0.8"/>
<path d="M446.00 141.40 C448.17 141.33 456.33 141.90 459.00 141.00 C461.67 140.10 461.08 138.33 462.00 136.00 C462.92 133.67 463.67 129.50 464.50 127.00 C465.33 124.50 466.25 121.33 467.00 121.00 C467.75 120.67 468.25 122.83 469.00 125.00 C469.75 127.17 470.67 131.50 471.50 134.00 C472.33 136.50 470.58 138.87 474.00 140.00 C477.42 141.13 489.00 140.67 492.00 140.80" fill="none" stroke="#9fd466" stroke-width="0.8"/>
<path d="M446.00 139.60 C448.00 139.57 455.33 140.08 458.00 139.40 C460.67 138.72 460.92 137.57 462.00 135.50 C463.08 133.43 463.83 129.42 464.50 127.00 C465.17 124.58 465.53 122.47 466.00 121.00 C466.47 119.53 466.83 118.20 467.30 118.20 C467.77 118.20 468.27 119.20 468.80 121.00 C469.33 122.80 469.88 126.50 470.50 129.00 C471.12 131.50 471.58 134.33 472.50 136.00 C473.42 137.67 472.75 138.47 476.00 139.00 C479.25 139.53 489.33 139.17 492.00 139.20" fill="none" stroke="#3a3aa8" stroke-width="0.8"/>
</g>
<rect x="446.2" y="113.1" width="45.5" height="31.900000000000006" fill="none" stroke="#c4c4c4" stroke-width="0.8"/>
<text x="451.43" y="148.90" font-size="3.8" fill="#555" text-anchor="middle">-</text>
<text x="455.98" y="148.90" font-size="3.5" fill="#555" stroke="#555" stroke-width="0.1" text-anchor="middle">10³</text>
<text x="466.68" y="148.90" font-size="3.5" fill="#555" stroke="#555" stroke-width="0.1" text-anchor="middle">10³</text>
<text x="477.37" y="148.90" font-size="3.5" fill="#555" stroke="#555" stroke-width="0.1" text-anchor="middle">10³</text>
<text x="487.15" y="148.90" font-size="3.5" fill="#555" stroke="#555" stroke-width="0.1" text-anchor="middle">10³</text>
<clipPath id="cn3"><rect x="359.0" y="153.6" width="45.30000000000001" height="31.400000000000006"/></clipPath>
<rect x="359.0" y="153.6" width="45.30000000000001" height="31.400000000000006" fill="#fff"/>
<g clip-path="url(#cn3)">
<path d="M359.00 169.00 C359.50 168.17 361.00 165.58 362.00 164.00 C363.00 162.42 364.00 160.80 365.00 159.50 C366.00 158.20 367.25 156.65 368.00 156.20 C368.75 155.75 368.83 156.00 369.50 156.80 C370.17 157.60 371.08 159.38 372.00 161.00 C372.92 162.62 374.00 164.75 375.00 166.50 C376.00 168.25 377.08 170.08 378.00 171.50 C378.92 172.92 379.83 174.08 380.50 175.00 C381.17 175.92 381.75 176.67 382.00 177.00 L382.00 177.20 L359.00 177.20 Z" fill="#b0b0b0" stroke="none"/>
<path d="M359.00 169.00 C359.50 168.17 361.00 165.58 362.00 164.00 C363.00 162.42 364.00 160.80 365.00 159.50 C366.00 158.20 367.25 156.65 368.00 156.20 C368.75 155.75 368.83 156.00 369.50 156.80 C370.17 157.60 371.08 159.38 372.00 161.00 C372.92 162.62 374.00 164.75 375.00 166.50 C376.00 168.25 377.08 170.08 378.00 171.50 C378.92 172.92 379.83 174.08 380.50 175.00 C381.17 175.92 381.75 176.67 382.00 177.00" fill="none" stroke="#6e6e6e" stroke-width="0.6"/>
<path d="M359.00 177.00 C362.17 177.00 373.67 177.17 378.00 177.00 C382.33 176.83 383.17 176.83 385.00 176.00 C386.83 175.17 387.83 173.67 389.00 172.00 C390.17 170.33 391.20 167.92 392.00 166.00 C392.80 164.08 393.30 161.70 393.80 160.50 C394.30 159.30 394.58 158.72 395.00 158.80 C395.42 158.88 395.88 159.80 396.30 161.00 C396.72 162.20 397.05 164.33 397.50 166.00 C397.95 167.67 398.42 169.58 399.00 171.00 C399.58 172.42 400.33 173.58 401.00 174.50 C401.67 175.42 402.42 176.08 403.00 176.50 C403.58 176.92 404.25 176.92 404.50 177.00 L404.50 187.00 L359.00 187.00 Z" fill="#ffffff" stroke="none"/>
<path d="M359.00 182.00 C360.83 181.92 366.50 181.83 370.00 181.50 C373.50 181.17 377.33 180.83 380.00 180.00 C382.67 179.17 384.33 177.83 386.00 176.50 C387.67 175.17 388.83 173.75 390.00 172.00 C391.17 170.25 392.17 167.50 393.00 166.00 C393.83 164.50 394.33 162.83 395.00 163.00 C395.67 163.17 396.33 165.17 397.00 167.00 C397.67 168.83 398.17 172.00 399.00 174.00 C399.83 176.00 401.08 177.83 402.00 179.00 C402.92 180.17 404.08 180.67 404.50 181.00 L404.50 187.00 L359.00 187.00 Z" fill="#ffffff" stroke="none"/>
<path d="M359.00 178.90 C360.50 178.83 365.33 178.82 368.00 178.50 C370.67 178.18 373.00 178.08 375.00 177.00 C377.00 175.92 378.50 173.83 380.00 172.00 C381.50 170.17 382.92 167.83 384.00 166.00 C385.08 164.17 385.82 161.98 386.50 161.00 C387.18 160.02 387.60 159.43 388.10 160.10 C388.60 160.77 389.10 163.02 389.50 165.00 C389.90 166.98 390.08 169.83 390.50 172.00 C390.92 174.17 391.25 176.73 392.00 178.00 C392.75 179.27 392.92 179.33 395.00 179.60 C397.08 179.87 402.92 179.60 404.50 179.60 L404.50 187.00 L359.00 187.00 Z" fill="#fcfff8" stroke="none"/>
<path d="M359.00 180.50 C362.17 180.33 373.50 180.25 378.00 179.50 C382.50 178.75 384.00 177.58 386.00 176.00 C388.00 174.42 388.83 172.17 390.00 170.00 C391.17 167.83 392.17 164.67 393.00 163.00 C393.83 161.33 394.33 159.83 395.00 160.00 C395.67 160.17 396.33 162.00 397.00 164.00 C397.67 166.00 398.17 169.67 399.00 172.00 C399.83 174.33 401.08 176.67 402.00 178.00 C402.92 179.33 404.08 179.67 404.50 180.00 L404.50 187.00 L359.00 187.00 Z" fill="#f3fbfb" stroke="none"/>
<path d="M359.00 180.50 C362.17 180.33 373.50 180.25 378.00 179.50 C382.50 178.75 384.00 177.58 386.00 176.00 C388.00 174.42 388.83 172.17 390.00 170.00 C391.17 167.83 392.17 164.67 393.00 163.00 C393.83 161.33 394.33 159.83 395.00 160.00 C395.67 160.17 396.33 162.00 397.00 164.00 C397.67 166.00 398.17 169.67 399.00 172.00 C399.83 174.33 401.08 176.67 402.00 178.00 C402.92 179.33 404.08 179.67 404.50 180.00" fill="none" stroke="#9ee2e6" stroke-width="0.8"/>
<path d="M359.00 182.00 C360.83 181.92 366.50 181.83 370.00 181.50 C373.50 181.17 377.33 180.83 380.00 180.00 C382.67 179.17 384.33 177.83 386.00 176.50 C387.67 175.17 388.83 173.75 390.00 172.00 C391.17 170.25 392.17 167.50 393.00 166.00 C393.83 164.50 394.33 162.83 395.00 163.00 C395.67 163.17 396.33 165.17 397.00 167.00 C397.67 168.83 398.17 172.00 399.00 174.00 C399.83 176.00 401.08 177.83 402.00 179.00 C402.92 180.17 404.08 180.67 404.50 181.00" fill="none" stroke="#e3a468" stroke-width="0.8"/>
<path d="M359.00 178.90 C360.50 178.83 365.33 178.82 368.00 178.50 C370.67 178.18 373.00 178.08 375.00 177.00 C377.00 175.92 378.50 173.83 380.00 172.00 C381.50 170.17 382.92 167.83 384.00 166.00 C385.08 164.17 385.82 161.98 386.50 161.00 C387.18 160.02 387.60 159.43 388.10 160.10 C388.60 160.77 389.10 163.02 389.50 165.00 C389.90 166.98 390.08 169.83 390.50 172.00 C390.92 174.17 391.25 176.73 392.00 178.00 C392.75 179.27 392.92 179.33 395.00 179.60 C397.08 179.87 402.92 179.60 404.50 179.60" fill="none" stroke="#9fd466" stroke-width="0.8"/>
<path d="M359.00 177.00 C362.17 177.00 373.67 177.17 378.00 177.00 C382.33 176.83 383.17 176.83 385.00 176.00 C386.83 175.17 387.83 173.67 389.00 172.00 C390.17 170.33 391.20 167.92 392.00 166.00 C392.80 164.08 393.30 161.70 393.80 160.50 C394.30 159.30 394.58 158.72 395.00 158.80 C395.42 158.88 395.88 159.80 396.30 161.00 C396.72 162.20 397.05 164.33 397.50 166.00 C397.95 167.67 398.42 169.58 399.00 171.00 C399.58 172.42 400.33 173.58 401.00 174.50 C401.67 175.42 402.42 176.08 403.00 176.50 C403.58 176.92 404.25 176.92 404.50 177.00" fill="none" stroke="#3a3aa8" stroke-width="0.8"/>
</g>
<rect x="359.0" y="153.6" width="45.30000000000001" height="31.400000000000006" fill="none" stroke="#c4c4c4" stroke-width="0.8"/>
<text x="364.21" y="188.90" font-size="3.8" fill="#555" text-anchor="middle">-</text>
<text x="368.74" y="188.90" font-size="3.5" fill="#555" stroke="#555" stroke-width="0.1" text-anchor="middle">10³</text>
<text x="379.38" y="188.90" font-size="3.5" fill="#555" stroke="#555" stroke-width="0.1" text-anchor="middle">10³</text>
<text x="390.03" y="188.90" font-size="3.5" fill="#555" stroke="#555" stroke-width="0.1" text-anchor="middle">10³</text>
<text x="399.77" y="188.90" font-size="3.5" fill="#555" stroke="#555" stroke-width="0.1" text-anchor="middle">10³</text>
<clipPath id="ct3"><rect x="446.2" y="153.6" width="45.5" height="31.400000000000006"/></clipPath>
<rect x="446.2" y="153.6" width="45.5" height="31.400000000000006" fill="#fff"/>
<g clip-path="url(#ct3)">
<path d="M446.00 173.90 C446.67 172.85 448.67 169.70 450.00 167.60 C451.33 165.50 452.67 163.28 454.00 161.30 C455.33 159.32 457.08 156.75 458.00 155.70 C458.92 154.65 458.83 154.48 459.50 155.00 C460.17 155.52 461.08 157.12 462.00 158.80 C462.92 160.48 464.17 162.80 465.00 165.10 C465.83 167.40 466.42 170.70 467.00 172.60 C467.58 174.50 468.25 175.85 468.50 176.50 L468.50 177.00 L446.00 177.00 Z" fill="#b0b0b0" stroke="none"/>
<path d="M446.00 173.90 C446.67 172.85 448.67 169.70 450.00 167.60 C451.33 165.50 452.67 163.28 454.00 161.30 C455.33 159.32 457.08 156.75 458.00 155.70 C458.92 154.65 458.83 154.48 459.50 155.00 C460.17 155.52 461.08 157.12 462.00 158.80 C462.92 160.48 464.17 162.80 465.00 165.10 C465.83 167.40 466.42 170.70 467.00 172.60 C467.58 174.50 468.25 175.85 468.50 176.50" fill="none" stroke="#6e6e6e" stroke-width="0.6"/>
<path d="M446.00 177.20 C448.33 177.17 457.00 177.70 460.00 177.00 C463.00 176.30 462.83 175.00 464.00 173.00 C465.17 171.00 466.17 167.33 467.00 165.00 C467.83 162.67 468.43 160.25 469.00 159.00 C469.57 157.75 469.93 157.33 470.40 157.50 C470.87 157.67 471.37 158.42 471.80 160.00 C472.23 161.58 472.55 164.50 473.00 167.00 C473.45 169.50 473.83 173.17 474.50 175.00 C475.17 176.83 474.08 177.45 477.00 178.00 C479.92 178.55 489.50 178.25 492.00 178.30 L492.00 187.00 L446.00 187.00 Z" fill="#ffffff" stroke="none"/>
<path d="M446.00 183.00 C448.67 182.92 458.67 183.33 462.00 182.50 C465.33 181.67 464.83 180.42 466.00 178.00 C467.17 175.58 468.08 170.67 469.00 168.00 C469.92 165.33 470.75 162.00 471.50 162.00 C472.25 162.00 472.83 165.33 473.50 168.00 C474.17 170.67 474.75 175.50 475.50 178.00 C476.25 180.50 475.25 182.17 478.00 183.00 C480.75 183.83 489.67 183.00 492.00 183.00 L492.00 187.00 L446.00 187.00 Z" fill="#ffffff" stroke="none"/>
<path d="M446.00 180.20 C448.50 180.13 457.83 180.67 461.00 179.80 C464.17 178.93 463.75 177.47 465.00 175.00 C466.25 172.53 467.42 167.50 468.50 165.00 C469.58 162.50 470.67 160.00 471.50 160.00 C472.33 160.00 472.83 162.50 473.50 165.00 C474.17 167.50 474.75 172.42 475.50 175.00 C476.25 177.58 475.25 179.53 478.00 180.50 C480.75 181.47 489.67 180.75 492.00 180.80 L492.00 187.00 L446.00 187.00 Z" fill="#fcfff8" stroke="none"/>
<path d="M446.00 181.80 C448.67 181.72 458.67 182.27 462.00 181.30 C465.33 180.33 464.83 178.55 466.00 176.00 C467.17 173.45 468.08 168.67 469.00 166.00 C469.92 163.33 470.75 160.00 471.50 160.00 C472.25 160.00 472.83 163.33 473.50 166.00 C474.17 168.67 474.75 173.42 475.50 176.00 C476.25 178.58 475.25 180.53 478.00 181.50 C480.75 182.47 489.67 181.75 492.00 181.80 L492.00 187.00 L446.00 187.00 Z" fill="#f3fbfb" stroke="none"/>
<path d="M446.00 181.80 C448.67 181.72 458.67 182.27 462.00 181.30 C465.33 180.33 464.83 178.55 466.00 176.00 C467.17 173.45 468.08 168.67 469.00 166.00 C469.92 163.33 470.75 160.00 471.50 160.00 C472.25 160.00 472.83 163.33 473.50 166.00 C474.17 168.67 474.75 173.42 475.50 176.00 C476.25 178.58 475.25 180.53 478.00 181.50 C480.75 182.47 489.67 181.75 492.00 181.80" fill="none" stroke="#9ee2e6" stroke-width="0.8"/>
<path d="M446.00 183.00 C448.67 182.92 458.67 183.33 462.00 182.50 C465.33 181.67 464.83 180.42 466.00 178.00 C467.17 175.58 468.08 170.67 469.00 168.00 C469.92 165.33 470.75 162.00 471.50 162.00 C472.25 162.00 472.83 165.33 473.50 168.00 C474.17 170.67 474.75 175.50 475.50 178.00 C476.25 180.50 475.25 182.17 478.00 183.00 C480.75 183.83 489.67 183.00 492.00 183.00" fill="none" stroke="#e3a468" stroke-width="0.8"/>
<path d="M446.00 180.20 C448.50 180.13 457.83 180.67 461.00 179.80 C464.17 178.93 463.75 177.47 465.00 175.00 C466.25 172.53 467.42 167.50 468.50 165.00 C469.58 162.50 470.67 160.00 471.50 160.00 C472.33 160.00 472.83 162.50 473.50 165.00 C474.17 167.50 474.75 172.42 475.50 175.00 C476.25 177.58 475.25 179.53 478.00 180.50 C480.75 181.47 489.67 180.75 492.00 180.80" fill="none" stroke="#9fd466" stroke-width="0.8"/>
<path d="M446.00 177.20 C448.33 177.17 457.00 177.70 460.00 177.00 C463.00 176.30 462.83 175.00 464.00 173.00 C465.17 171.00 466.17 167.33 467.00 165.00 C467.83 162.67 468.43 160.25 469.00 159.00 C469.57 157.75 469.93 157.33 470.40 157.50 C470.87 157.67 471.37 158.42 471.80 160.00 C472.23 161.58 472.55 164.50 473.00 167.00 C473.45 169.50 473.83 173.17 474.50 175.00 C475.17 176.83 474.08 177.45 477.00 178.00 C479.92 178.55 489.50 178.25 492.00 178.30" fill="none" stroke="#3a3aa8" stroke-width="0.8"/>
</g>
<rect x="446.2" y="153.6" width="45.5" height="31.400000000000006" fill="none" stroke="#c4c4c4" stroke-width="0.8"/>
<text x="451.43" y="188.90" font-size="3.8" fill="#555" text-anchor="middle">-</text>
<text x="455.98" y="188.90" font-size="3.5" fill="#555" stroke="#555" stroke-width="0.1" text-anchor="middle">10³</text>
<text x="466.68" y="188.90" font-size="3.5" fill="#555" stroke="#555" stroke-width="0.1" text-anchor="middle">10³</text>
<text x="477.37" y="188.90" font-size="3.5" fill="#555" stroke="#555" stroke-width="0.1" text-anchor="middle">10³</text>
<text x="487.15" y="188.90" font-size="3.5" fill="#555" stroke="#555" stroke-width="0.1" text-anchor="middle">10³</text>
<clipPath id="cn4"><rect x="359.0" y="193.6" width="45.30000000000001" height="31.0"/></clipPath>
<rect x="359.0" y="193.6" width="45.30000000000001" height="31.0" fill="#fff"/>
<g clip-path="url(#cn4)">
<path d="M359.00 205.50 C359.33 204.88 360.33 202.80 361.00 201.80 C361.67 200.80 362.33 200.13 363.00 199.50 C363.67 198.87 364.17 198.53 365.00 198.00 C365.83 197.47 367.17 196.43 368.00 196.30 C368.83 196.17 369.45 196.58 370.00 197.20 C370.55 197.82 370.92 198.70 371.30 200.00 C371.68 201.30 372.02 203.17 372.30 205.00 C372.58 206.83 372.88 210.00 373.00 211.00 L373.00 212.50 L359.00 212.50 Z" fill="#b0b0b0" stroke="none"/>
<path d="M359.00 205.50 C359.33 204.88 360.33 202.80 361.00 201.80 C361.67 200.80 362.33 200.13 363.00 199.50 C363.67 198.87 364.17 198.53 365.00 198.00 C365.83 197.47 367.17 196.43 368.00 196.30 C368.83 196.17 369.45 196.58 370.00 197.20 C370.55 197.82 370.92 198.70 371.30 200.00 C371.68 201.30 372.02 203.17 372.30 205.00 C372.58 206.83 372.88 210.00 373.00 211.00" fill="none" stroke="#6e6e6e" stroke-width="0.6"/>
<path d="M359.00 213.00 C359.50 212.53 361.00 210.87 362.00 210.20 C363.00 209.53 364.17 209.32 365.00 209.00 C365.83 208.68 366.42 208.72 367.00 208.30 C367.58 207.88 368.00 207.38 368.50 206.50 C369.00 205.62 369.50 204.17 370.00 203.00 C370.50 201.83 371.03 200.27 371.50 199.50 C371.97 198.73 372.42 198.62 372.80 198.40 C373.18 198.18 373.43 197.77 373.80 198.20 C374.17 198.63 374.62 200.48 375.00 201.00 C375.38 201.52 375.73 201.43 376.10 201.30 C376.47 201.17 376.83 199.98 377.20 200.20 C377.57 200.42 377.92 201.63 378.30 202.60 C378.68 203.57 379.05 204.43 379.50 206.00 C379.95 207.57 380.42 210.17 381.00 212.00 C381.58 213.83 382.17 215.97 383.00 217.00 C383.83 218.03 382.42 218.00 386.00 218.20 C389.58 218.40 401.42 218.20 404.50 218.20 L404.50 226.60 L359.00 226.60 Z" fill="#ffffff" stroke="none"/>
<path d="M359.00 222.70 C360.83 222.67 367.50 223.12 370.00 222.50 C372.50 221.88 372.92 220.75 374.00 219.00 C375.08 217.25 375.75 213.92 376.50 212.00 C377.25 210.08 377.83 208.00 378.50 207.50 C379.17 207.00 379.83 207.75 380.50 209.00 C381.17 210.25 381.75 213.00 382.50 215.00 C383.25 217.00 384.08 219.72 385.00 221.00 C385.92 222.28 384.75 222.42 388.00 222.70 C391.25 222.98 401.75 222.70 404.50 222.70 L404.50 226.60 L359.00 226.60 Z" fill="#ffffff" stroke="none"/>
<path d="M359.00 219.60 C360.83 219.57 367.50 219.75 370.00 219.40 C372.50 219.05 372.83 218.23 374.00 217.50 C375.17 216.77 376.08 215.75 377.00 215.00 C377.92 214.25 378.75 214.17 379.50 213.00 C380.25 211.83 380.95 209.75 381.50 208.00 C382.05 206.25 382.43 203.72 382.80 202.50 C383.17 201.28 383.38 200.62 383.70 200.70 C384.02 200.78 384.32 201.28 384.70 203.00 C385.08 204.72 385.53 208.50 386.00 211.00 C386.47 213.50 386.83 216.47 387.50 218.00 C388.17 219.53 387.17 219.83 390.00 220.20 C392.83 220.57 402.08 220.20 404.50 220.20 L404.50 226.60 L359.00 226.60 Z" fill="#fcfff8" stroke="none"/>
<path d="M359.00 221.00 C360.17 220.92 364.33 221.33 366.00 220.50 C367.67 219.67 368.08 217.92 369.00 216.00 C369.92 214.08 370.75 211.00 371.50 209.00 C372.25 207.00 372.83 205.08 373.50 204.00 C374.17 202.92 374.83 202.17 375.50 202.50 C376.17 202.83 376.83 204.25 377.50 206.00 C378.17 207.75 378.75 210.75 379.50 213.00 C380.25 215.25 380.92 218.08 382.00 219.50 C383.08 220.92 382.25 221.17 386.00 221.50 C389.75 221.83 401.42 221.50 404.50 221.50 L404.50 226.60 L359.00 226.60 Z" fill="#f3fbfb" stroke="none"/>
<path d="M359.00 221.00 C360.17 220.92 364.33 221.33 366.00 220.50 C367.67 219.67 368.08 217.92 369.00 216.00 C369.92 214.08 370.75 211.00 371.50 209.00 C372.25 207.00 372.83 205.08 373.50 204.00 C374.17 202.92 374.83 202.17 375.50 202.50 C376.17 202.83 376.83 204.25 377.50 206.00 C378.17 207.75 378.75 210.75 379.50 213.00 C380.25 215.25 380.92 218.08 382.00 219.50 C383.08 220.92 382.25 221.17 386.00 221.50 C389.75 221.83 401.42 221.50 404.50 221.50" fill="none" stroke="#9ee2e6" stroke-width="0.8"/>
<path d="M359.00 222.70 C360.83 222.67 367.50 223.12 370.00 222.50 C372.50 221.88 372.92 220.75 374.00 219.00 C375.08 217.25 375.75 213.92 376.50 212.00 C377.25 210.08 377.83 208.00 378.50 207.50 C379.17 207.00 379.83 207.75 380.50 209.00 C381.17 210.25 381.75 213.00 382.50 215.00 C383.25 217.00 384.08 219.72 385.00 221.00 C385.92 222.28 384.75 222.42 388.00 222.70 C391.25 222.98 401.75 222.70 404.50 222.70" fill="none" stroke="#e3a468" stroke-width="0.8"/>
<path d="M359.00 219.60 C360.83 219.57 367.50 219.75 370.00 219.40 C372.50 219.05 372.83 218.23 374.00 217.50 C375.17 216.77 376.08 215.75 377.00 215.00 C377.92 214.25 378.75 214.17 379.50 213.00 C380.25 211.83 380.95 209.75 381.50 208.00 C382.05 206.25 382.43 203.72 382.80 202.50 C383.17 201.28 383.38 200.62 383.70 200.70 C384.02 200.78 384.32 201.28 384.70 203.00 C385.08 204.72 385.53 208.50 386.00 211.00 C386.47 213.50 386.83 216.47 387.50 218.00 C388.17 219.53 387.17 219.83 390.00 220.20 C392.83 220.57 402.08 220.20 404.50 220.20" fill="none" stroke="#9fd466" stroke-width="0.8"/>
<path d="M359.00 213.00 C359.50 212.53 361.00 210.87 362.00 210.20 C363.00 209.53 364.17 209.32 365.00 209.00 C365.83 208.68 366.42 208.72 367.00 208.30 C367.58 207.88 368.00 207.38 368.50 206.50 C369.00 205.62 369.50 204.17 370.00 203.00 C370.50 201.83 371.03 200.27 371.50 199.50 C371.97 198.73 372.42 198.62 372.80 198.40 C373.18 198.18 373.43 197.77 373.80 198.20 C374.17 198.63 374.62 200.48 375.00 201.00 C375.38 201.52 375.73 201.43 376.10 201.30 C376.47 201.17 376.83 199.98 377.20 200.20 C377.57 200.42 377.92 201.63 378.30 202.60 C378.68 203.57 379.05 204.43 379.50 206.00 C379.95 207.57 380.42 210.17 381.00 212.00 C381.58 213.83 382.17 215.97 383.00 217.00 C383.83 218.03 382.42 218.00 386.00 218.20 C389.58 218.40 401.42 218.20 404.50 218.20" fill="none" stroke="#3a3aa8" stroke-width="0.8"/>
</g>
<rect x="359.0" y="193.6" width="45.30000000000001" height="31.0" fill="none" stroke="#c4c4c4" stroke-width="0.8"/>
<text x="364.21" y="228.50" font-size="3.8" fill="#555" text-anchor="middle">-</text>
<text x="368.74" y="228.50" font-size="3.5" fill="#555" stroke="#555" stroke-width="0.1" text-anchor="middle">10³</text>
<text x="379.38" y="228.50" font-size="3.5" fill="#555" stroke="#555" stroke-width="0.1" text-anchor="middle">10³</text>
<text x="390.03" y="228.50" font-size="3.5" fill="#555" stroke="#555" stroke-width="0.1" text-anchor="middle">10³</text>
<text x="399.77" y="228.50" font-size="3.5" fill="#555" stroke="#555" stroke-width="0.1" text-anchor="middle">10³</text>
<clipPath id="ct4"><rect x="446.2" y="193.6" width="45.5" height="31.0"/></clipPath>
<rect x="446.2" y="193.6" width="45.5" height="31.0" fill="#fff"/>
<g clip-path="url(#ct4)">
<path d="M445.50 213.90 C446.08 213.07 447.75 210.68 449.00 208.90 C450.25 207.12 451.67 204.88 453.00 203.20 C454.33 201.52 455.87 200.05 457.00 198.80 C458.13 197.55 459.05 195.58 459.80 195.70 C460.55 195.82 461.00 197.78 461.50 199.50 C462.00 201.22 462.42 203.92 462.80 206.00 C463.18 208.08 463.52 210.25 463.80 212.00 C464.08 213.75 464.38 215.75 464.50 216.50 L464.50 217.00 L445.50 217.00 Z" fill="#b0b0b0" stroke="none"/>
<path d="M445.50 213.90 C446.08 213.07 447.75 210.68 449.00 208.90 C450.25 207.12 451.67 204.88 453.00 203.20 C454.33 201.52 455.87 200.05 457.00 198.80 C458.13 197.55 459.05 195.58 459.80 195.70 C460.55 195.82 461.00 197.78 461.50 199.50 C462.00 201.22 462.42 203.92 462.80 206.00 C463.18 208.08 463.52 210.25 463.80 212.00 C464.08 213.75 464.38 215.75 464.50 216.50" fill="none" stroke="#6e6e6e" stroke-width="0.6"/>
<path d="M445.50 216.80 C446.25 216.50 448.58 215.63 450.00 215.00 C451.42 214.37 452.92 213.25 454.00 213.00 C455.08 212.75 455.67 213.08 456.50 213.50 C457.33 213.92 458.33 215.08 459.00 215.50 C459.67 215.92 460.00 216.58 460.50 216.00 C461.00 215.42 461.50 213.67 462.00 212.00 C462.50 210.33 462.92 207.92 463.50 206.00 C464.08 204.08 464.92 201.78 465.50 200.50 C466.08 199.22 466.55 198.68 467.00 198.30 C467.45 197.92 467.73 197.75 468.20 198.20 C468.67 198.65 469.25 199.37 469.80 201.00 C470.35 202.63 470.97 205.67 471.50 208.00 C472.03 210.33 472.42 213.28 473.00 215.00 C473.58 216.72 471.83 217.75 475.00 218.30 C478.17 218.85 489.17 218.30 492.00 218.30 L492.00 226.60 L445.50 226.60 Z" fill="#ffffff" stroke="none"/>
<path d="M445.50 221.50 C447.58 221.42 454.92 221.42 458.00 221.00 C461.08 220.58 462.50 220.83 464.00 219.00 C465.50 217.17 466.17 212.83 467.00 210.00 C467.83 207.17 468.33 202.50 469.00 202.00 C469.67 201.50 470.33 204.67 471.00 207.00 C471.67 209.33 472.17 213.58 473.00 216.00 C473.83 218.42 472.83 220.58 476.00 221.50 C479.17 222.42 489.33 221.50 492.00 221.50 L492.00 226.60 L445.50 226.60 Z" fill="#ffffff" stroke="none"/>
<path d="M445.50 220.20 C445.92 220.00 447.08 219.12 448.00 219.00 C448.92 218.88 450.00 219.58 451.00 219.50 C452.00 219.42 453.00 218.58 454.00 218.50 C455.00 218.42 456.00 219.08 457.00 219.00 C458.00 218.92 459.00 218.83 460.00 218.00 C461.00 217.17 462.08 216.00 463.00 214.00 C463.92 212.00 464.75 208.33 465.50 206.00 C466.25 203.67 466.92 201.08 467.50 200.00 C468.08 198.92 468.42 198.83 469.00 199.50 C469.58 200.17 470.33 201.92 471.00 204.00 C471.67 206.08 472.33 209.50 473.00 212.00 C473.67 214.50 474.17 217.53 475.00 219.00 C475.83 220.47 475.17 220.50 478.00 220.80 C480.83 221.10 489.67 220.80 492.00 220.80 L492.00 226.60 L445.50 226.60 Z" fill="#fcfff8" stroke="none"/>
<path d="M445.50 221.50 C447.58 221.42 454.92 221.42 458.00 221.00 C461.08 220.58 462.50 220.83 464.00 219.00 C465.50 217.17 466.17 212.83 467.00 210.00 C467.83 207.17 468.33 202.50 469.00 202.00 C469.67 201.50 470.33 204.67 471.00 207.00 C471.67 209.33 472.17 213.58 473.00 216.00 C473.83 218.42 472.83 220.58 476.00 221.50 C479.17 222.42 489.33 221.50 492.00 221.50" fill="none" stroke="#e3a468" stroke-width="0.8"/>
<path d="M445.50 220.20 C445.92 220.00 447.08 219.12 448.00 219.00 C448.92 218.88 450.00 219.58 451.00 219.50 C452.00 219.42 453.00 218.58 454.00 218.50 C455.00 218.42 456.00 219.08 457.00 219.00 C458.00 218.92 459.00 218.83 460.00 218.00 C461.00 217.17 462.08 216.00 463.00 214.00 C463.92 212.00 464.75 208.33 465.50 206.00 C466.25 203.67 466.92 201.08 467.50 200.00 C468.08 198.92 468.42 198.83 469.00 199.50 C469.58 200.17 470.33 201.92 471.00 204.00 C471.67 206.08 472.33 209.50 473.00 212.00 C473.67 214.50 474.17 217.53 475.00 219.00 C475.83 220.47 475.17 220.50 478.00 220.80 C480.83 221.10 489.67 220.80 492.00 220.80" fill="none" stroke="#9fd466" stroke-width="0.8"/>
<path d="M445.50 216.80 C446.25 216.50 448.58 215.63 450.00 215.00 C451.42 214.37 452.92 213.25 454.00 213.00 C455.08 212.75 455.67 213.08 456.50 213.50 C457.33 213.92 458.33 215.08 459.00 215.50 C459.67 215.92 460.00 216.58 460.50 216.00 C461.00 215.42 461.50 213.67 462.00 212.00 C462.50 210.33 462.92 207.92 463.50 206.00 C464.08 204.08 464.92 201.78 465.50 200.50 C466.08 199.22 466.55 198.68 467.00 198.30 C467.45 197.92 467.73 197.75 468.20 198.20 C468.67 198.65 469.25 199.37 469.80 201.00 C470.35 202.63 470.97 205.67 471.50 208.00 C472.03 210.33 472.42 213.28 473.00 215.00 C473.58 216.72 471.83 217.75 475.00 218.30 C478.17 218.85 489.17 218.30 492.00 218.30" fill="none" stroke="#3a3aa8" stroke-width="0.8"/>
</g>
<rect x="446.2" y="193.6" width="45.5" height="31.0" fill="none" stroke="#c4c4c4" stroke-width="0.8"/>
<text x="451.43" y="228.50" font-size="3.8" fill="#555" text-anchor="middle">-</text>
<text x="455.98" y="228.50" font-size="3.5" fill="#555" stroke="#555" stroke-width="0.1" text-anchor="middle">10³</text>
<text x="466.68" y="228.50" font-size="3.5" fill="#555" stroke="#555" stroke-width="0.1" text-anchor="middle">10³</text>
<text x="477.37" y="228.50" font-size="3.5" fill="#555" stroke="#555" stroke-width="0.1" text-anchor="middle">10³</text>
<text x="487.15" y="228.50" font-size="3.5" fill="#555" stroke="#555" stroke-width="0.1" text-anchor="middle">10³</text>
<clipPath id="cn5"><rect x="359.0" y="233.2" width="45.30000000000001" height="30.400000000000034"/></clipPath>
<rect x="359.0" y="233.2" width="45.30000000000001" height="30.400000000000034" fill="#fff"/>
<g clip-path="url(#cn5)">
<path d="M359.00 254.50 C359.33 254.00 360.33 252.50 361.00 251.50 C361.67 250.50 362.33 249.58 363.00 248.50 C363.67 247.42 364.42 246.25 365.00 245.00 C365.58 243.75 366.03 242.33 366.50 241.00 C366.97 239.67 367.38 237.95 367.80 237.00 C368.22 236.05 368.60 235.22 369.00 235.30 C369.40 235.38 369.83 237.38 370.20 237.50 C370.57 237.62 370.87 235.78 371.20 236.00 C371.53 236.22 371.90 237.70 372.20 238.80 C372.50 239.90 372.73 241.07 373.00 242.60 C373.27 244.13 373.55 246.27 373.80 248.00 C374.05 249.73 374.30 251.67 374.50 253.00 C374.70 254.33 374.92 255.50 375.00 256.00 L375.00 256.50 L359.00 256.50 Z" fill="#b0b0b0" stroke="none"/>
<path d="M359.00 254.50 C359.33 254.00 360.33 252.50 361.00 251.50 C361.67 250.50 362.33 249.58 363.00 248.50 C363.67 247.42 364.42 246.25 365.00 245.00 C365.58 243.75 366.03 242.33 366.50 241.00 C366.97 239.67 367.38 237.95 367.80 237.00 C368.22 236.05 368.60 235.22 369.00 235.30 C369.40 235.38 369.83 237.38 370.20 237.50 C370.57 237.62 370.87 235.78 371.20 236.00 C371.53 236.22 371.90 237.70 372.20 238.80 C372.50 239.90 372.73 241.07 373.00 242.60 C373.27 244.13 373.55 246.27 373.80 248.00 C374.05 249.73 374.30 251.67 374.50 253.00 C374.70 254.33 374.92 255.50 375.00 256.00" fill="none" stroke="#6e6e6e" stroke-width="0.6"/>
<path d="M359.00 257.60 C360.50 257.53 366.00 257.63 368.00 257.20 C370.00 256.77 370.08 256.20 371.00 255.00 C371.92 253.80 372.75 251.58 373.50 250.00 C374.25 248.42 374.87 246.83 375.50 245.50 C376.13 244.17 376.80 243.00 377.30 242.00 C377.80 241.00 378.17 240.13 378.50 239.50 C378.83 238.87 379.02 237.95 379.30 238.20 C379.58 238.45 379.92 240.95 380.20 241.00 C380.48 241.05 380.70 238.58 381.00 238.50 C381.30 238.42 381.67 239.42 382.00 240.50 C382.33 241.58 382.58 243.25 383.00 245.00 C383.42 246.75 384.00 249.42 384.50 251.00 C385.00 252.58 385.42 253.58 386.00 254.50 C386.58 255.42 387.33 256.02 388.00 256.50 C388.67 256.98 387.25 257.25 390.00 257.40 C392.75 257.55 402.08 257.40 404.50 257.40 L404.50 265.60 L359.00 265.60 Z" fill="#ffffff" stroke="none"/>
<path d="M359.00 260.60 C361.17 260.53 369.17 260.88 372.00 260.20 C374.83 259.52 374.92 258.12 376.00 256.50 C377.08 254.88 377.83 252.00 378.50 250.50 C379.17 249.00 379.42 247.58 380.00 247.50 C380.58 247.42 381.33 248.58 382.00 250.00 C382.67 251.42 383.17 254.33 384.00 256.00 C384.83 257.67 383.58 259.20 387.00 260.00 C390.42 260.80 401.58 260.67 404.50 260.80 L404.50 265.60 L359.00 265.60 Z" fill="#ffffff" stroke="none"/>
<path d="M359.00 257.80 C360.33 257.72 365.17 257.85 367.00 257.30 C368.83 256.75 369.17 255.80 370.00 254.50 C370.83 253.20 371.33 251.33 372.00 249.50 C372.67 247.67 373.38 245.12 374.00 243.50 C374.62 241.88 375.12 240.05 375.70 239.80 C376.28 239.55 376.87 240.47 377.50 242.00 C378.13 243.53 378.83 246.75 379.50 249.00 C380.17 251.25 380.75 253.75 381.50 255.50 C382.25 257.25 382.58 258.72 384.00 259.50 C385.42 260.28 386.58 260.08 390.00 260.20 C393.42 260.32 402.08 260.20 404.50 260.20 L404.50 265.60 L359.00 265.60 Z" fill="#fcfff8" stroke="none"/>
<path d="M359.00 259.00 C360.50 258.92 366.00 259.17 368.00 258.50 C370.00 257.83 370.08 256.58 371.00 255.00 C371.92 253.42 372.67 250.83 373.50 249.00 C374.33 247.17 375.17 245.03 376.00 244.00 C376.83 242.97 377.67 242.30 378.50 242.80 C379.33 243.30 380.17 245.13 381.00 247.00 C381.83 248.87 382.67 251.92 383.50 254.00 C384.33 256.08 382.50 258.58 386.00 259.50 C389.50 260.42 401.42 259.50 404.50 259.50 L404.50 265.60 L359.00 265.60 Z" fill="#f3fbfb" stroke="none"/>
<path d="M359.00 259.00 C360.50 258.92 366.00 259.17 368.00 258.50 C370.00 257.83 370.08 256.58 371.00 255.00 C371.92 253.42 372.67 250.83 373.50 249.00 C374.33 247.17 375.17 245.03 376.00 244.00 C376.83 242.97 377.67 242.30 378.50 242.80 C379.33 243.30 380.17 245.13 381.00 247.00 C381.83 248.87 382.67 251.92 383.50 254.00 C384.33 256.08 382.50 258.58 386.00 259.50 C389.50 260.42 401.42 259.50 404.50 259.50" fill="none" stroke="#9ee2e6" stroke-width="0.8"/>
<path d="M359.00 260.60 C361.17 260.53 369.17 260.88 372.00 260.20 C374.83 259.52 374.92 258.12 376.00 256.50 C377.08 254.88 377.83 252.00 378.50 250.50 C379.17 249.00 379.42 247.58 380.00 247.50 C380.58 247.42 381.33 248.58 382.00 250.00 C382.67 251.42 383.17 254.33 384.00 256.00 C384.83 257.67 383.58 259.20 387.00 260.00 C390.42 260.80 401.58 260.67 404.50 260.80" fill="none" stroke="#e3a468" stroke-width="0.8"/>
<path d="M359.00 257.80 C360.33 257.72 365.17 257.85 367.00 257.30 C368.83 256.75 369.17 255.80 370.00 254.50 C370.83 253.20 371.33 251.33 372.00 249.50 C372.67 247.67 373.38 245.12 374.00 243.50 C374.62 241.88 375.12 240.05 375.70 239.80 C376.28 239.55 376.87 240.47 377.50 242.00 C378.13 243.53 378.83 246.75 379.50 249.00 C380.17 251.25 380.75 253.75 381.50 255.50 C382.25 257.25 382.58 258.72 384.00 259.50 C385.42 260.28 386.58 260.08 390.00 260.20 C393.42 260.32 402.08 260.20 404.50 260.20" fill="none" stroke="#9fd466" stroke-width="0.8"/>
<path d="M359.00 257.60 C360.50 257.53 366.00 257.63 368.00 257.20 C370.00 256.77 370.08 256.20 371.00 255.00 C371.92 253.80 372.75 251.58 373.50 250.00 C374.25 248.42 374.87 246.83 375.50 245.50 C376.13 244.17 376.80 243.00 377.30 242.00 C377.80 241.00 378.17 240.13 378.50 239.50 C378.83 238.87 379.02 237.95 379.30 238.20 C379.58 238.45 379.92 240.95 380.20 241.00 C380.48 241.05 380.70 238.58 381.00 238.50 C381.30 238.42 381.67 239.42 382.00 240.50 C382.33 241.58 382.58 243.25 383.00 245.00 C383.42 246.75 384.00 249.42 384.50 251.00 C385.00 252.58 385.42 253.58 386.00 254.50 C386.58 255.42 387.33 256.02 388.00 256.50 C388.67 256.98 387.25 257.25 390.00 257.40 C392.75 257.55 402.08 257.40 404.50 257.40" fill="none" stroke="#3a3aa8" stroke-width="0.8"/>
</g>
<rect x="359.0" y="233.2" width="45.30000000000001" height="30.400000000000034" fill="none" stroke="#c4c4c4" stroke-width="0.8"/>
<text x="364.21" y="267.50" font-size="3.8" fill="#555" text-anchor="middle">-</text>
<text x="368.74" y="267.50" font-size="3.5" fill="#555" stroke="#555" stroke-width="0.1" text-anchor="middle">10³</text>
<text x="379.38" y="267.50" font-size="3.5" fill="#555" stroke="#555" stroke-width="0.1" text-anchor="middle">10³</text>
<text x="390.03" y="267.50" font-size="3.5" fill="#555" stroke="#555" stroke-width="0.1" text-anchor="middle">10³</text>
<text x="399.77" y="267.50" font-size="3.5" fill="#555" stroke="#555" stroke-width="0.1" text-anchor="middle">10³</text>
<clipPath id="ct5"><rect x="446.2" y="233.2" width="45.5" height="30.400000000000034"/></clipPath>
<rect x="446.2" y="233.2" width="45.5" height="30.400000000000034" fill="#fff"/>
<g clip-path="url(#ct5)">
<path d="M445.50 254.30 C446.08 253.65 447.92 251.88 449.00 250.40 C450.08 248.92 451.17 247.28 452.00 245.40 C452.83 243.52 453.42 240.88 454.00 239.10 C454.58 237.32 455.00 234.82 455.50 234.70 C456.00 234.58 456.42 237.47 457.00 238.40 C457.58 239.33 458.50 238.93 459.00 240.30 C459.50 241.67 459.67 244.50 460.00 246.60 C460.33 248.70 460.70 251.50 461.00 252.90 C461.30 254.30 461.67 254.65 461.80 255.00 L461.80 255.50 L445.50 255.50 Z" fill="#b0b0b0" stroke="none"/>
<path d="M445.50 254.30 C446.08 253.65 447.92 251.88 449.00 250.40 C450.08 248.92 451.17 247.28 452.00 245.40 C452.83 243.52 453.42 240.88 454.00 239.10 C454.58 237.32 455.00 234.82 455.50 234.70 C456.00 234.58 456.42 237.47 457.00 238.40 C457.58 239.33 458.50 238.93 459.00 240.30 C459.50 241.67 459.67 244.50 460.00 246.60 C460.33 248.70 460.70 251.50 461.00 252.90 C461.30 254.30 461.67 254.65 461.80 255.00" fill="none" stroke="#6e6e6e" stroke-width="0.6"/>
<path d="M445.50 255.60 C446.58 255.57 450.25 255.57 452.00 255.40 C453.75 255.23 454.92 255.17 456.00 254.60 C457.08 254.03 457.75 253.43 458.50 252.00 C459.25 250.57 459.92 247.92 460.50 246.00 C461.08 244.08 461.55 241.80 462.00 240.50 C462.45 239.20 462.78 238.37 463.20 238.20 C463.62 238.03 464.07 239.70 464.50 239.50 C464.93 239.30 465.43 237.45 465.80 237.00 C466.17 236.55 466.33 236.30 466.70 236.80 C467.07 237.30 467.45 238.13 468.00 240.00 C468.55 241.87 469.33 245.67 470.00 248.00 C470.67 250.33 471.17 252.67 472.00 254.00 C472.83 255.33 474.00 255.75 475.00 256.00 C476.00 256.25 477.00 255.42 478.00 255.50 C479.00 255.58 478.67 256.35 481.00 256.50 C483.33 256.65 490.17 256.42 492.00 256.40 L492.00 265.60 L445.50 265.60 Z" fill="#ffffff" stroke="none"/>
<path d="M445.50 260.50 C447.58 260.47 455.42 260.88 458.00 260.30 C460.58 259.72 460.08 258.72 461.00 257.00 C461.92 255.28 462.75 252.17 463.50 250.00 C464.25 247.83 464.83 244.67 465.50 244.00 C466.17 243.33 466.75 244.50 467.50 246.00 C468.25 247.50 469.08 250.92 470.00 253.00 C470.92 255.08 469.33 257.33 473.00 258.50 C476.67 259.67 488.83 259.75 492.00 260.00 L492.00 265.60 L445.50 265.60 Z" fill="#ffffff" stroke="none"/>
<path d="M445.50 258.20 C447.25 258.17 453.75 258.37 456.00 258.00 C458.25 257.63 458.17 257.17 459.00 256.00 C459.83 254.83 460.33 253.00 461.00 251.00 C461.67 249.00 462.33 245.75 463.00 244.00 C463.67 242.25 464.33 240.67 465.00 240.50 C465.67 240.33 466.25 241.25 467.00 243.00 C467.75 244.75 468.67 248.75 469.50 251.00 C470.33 253.25 470.92 255.33 472.00 256.50 C473.08 257.67 474.67 257.92 476.00 258.00 C477.33 258.08 478.67 256.97 480.00 257.00 C481.33 257.03 482.00 257.95 484.00 258.20 C486.00 258.45 490.67 258.45 492.00 258.50 L492.00 265.60 L445.50 265.60 Z" fill="#fcfff8" stroke="none"/>
<path d="M445.50 259.40 C447.25 259.33 453.67 259.57 456.00 259.00 C458.33 258.43 458.58 257.50 459.50 256.00 C460.42 254.50 460.83 252.00 461.50 250.00 C462.17 248.00 462.92 245.42 463.50 244.00 C464.08 242.58 464.42 241.50 465.00 241.50 C465.58 241.50 466.33 242.58 467.00 244.00 C467.67 245.42 468.17 248.00 469.00 250.00 C469.83 252.00 470.83 254.58 472.00 256.00 C473.17 257.42 472.67 258.00 476.00 258.50 C479.33 259.00 489.33 258.92 492.00 259.00 L492.00 265.60 L445.50 265.60 Z" fill="#f3fbfb" stroke="none"/>
<path d="M445.50 259.40 C447.25 259.33 453.67 259.57 456.00 259.00 C458.33 258.43 458.58 257.50 459.50 256.00 C460.42 254.50 460.83 252.00 461.50 250.00 C462.17 248.00 462.92 245.42 463.50 244.00 C464.08 242.58 464.42 241.50 465.00 241.50 C465.58 241.50 466.33 242.58 467.00 244.00 C467.67 245.42 468.17 248.00 469.00 250.00 C469.83 252.00 470.83 254.58 472.00 256.00 C473.17 257.42 472.67 258.00 476.00 258.50 C479.33 259.00 489.33 258.92 492.00 259.00" fill="none" stroke="#9ee2e6" stroke-width="0.8"/>
<path d="M445.50 260.50 C447.58 260.47 455.42 260.88 458.00 260.30 C460.58 259.72 460.08 258.72 461.00 257.00 C461.92 255.28 462.75 252.17 463.50 250.00 C464.25 247.83 464.83 244.67 465.50 244.00 C466.17 243.33 466.75 244.50 467.50 246.00 C468.25 247.50 469.08 250.92 470.00 253.00 C470.92 255.08 469.33 257.33 473.00 258.50 C476.67 259.67 488.83 259.75 492.00 260.00" fill="none" stroke="#e3a468" stroke-width="0.8"/>
<path d="M445.50 258.20 C447.25 258.17 453.75 258.37 456.00 258.00 C458.25 257.63 458.17 257.17 459.00 256.00 C459.83 254.83 460.33 253.00 461.00 251.00 C461.67 249.00 462.33 245.75 463.00 244.00 C463.67 242.25 464.33 240.67 465.00 240.50 C465.67 240.33 466.25 241.25 467.00 243.00 C467.75 244.75 468.67 248.75 469.50 251.00 C470.33 253.25 470.92 255.33 472.00 256.50 C473.08 257.67 474.67 257.92 476.00 258.00 C477.33 258.08 478.67 256.97 480.00 257.00 C481.33 257.03 482.00 257.95 484.00 258.20 C486.00 258.45 490.67 258.45 492.00 258.50" fill="none" stroke="#9fd466" stroke-width="0.8"/>
<path d="M445.50 255.60 C446.58 255.57 450.25 255.57 452.00 255.40 C453.75 255.23 454.92 255.17 456.00 254.60 C457.08 254.03 457.75 253.43 458.50 252.00 C459.25 250.57 459.92 247.92 460.50 246.00 C461.08 244.08 461.55 241.80 462.00 240.50 C462.45 239.20 462.78 238.37 463.20 238.20 C463.62 238.03 464.07 239.70 464.50 239.50 C464.93 239.30 465.43 237.45 465.80 237.00 C466.17 236.55 466.33 236.30 466.70 236.80 C467.07 237.30 467.45 238.13 468.00 240.00 C468.55 241.87 469.33 245.67 470.00 248.00 C470.67 250.33 471.17 252.67 472.00 254.00 C472.83 255.33 474.00 255.75 475.00 256.00 C476.00 256.25 477.00 255.42 478.00 255.50 C479.00 255.58 478.67 256.35 481.00 256.50 C483.33 256.65 490.17 256.42 492.00 256.40" fill="none" stroke="#3a3aa8" stroke-width="0.8"/>
</g>
<rect x="446.2" y="233.2" width="45.5" height="30.400000000000034" fill="none" stroke="#c4c4c4" stroke-width="0.8"/>
<text x="451.43" y="267.50" font-size="3.8" fill="#555" text-anchor="middle">-</text>
<text x="455.98" y="267.50" font-size="3.5" fill="#555" stroke="#555" stroke-width="0.1" text-anchor="middle">10³</text>
<text x="466.68" y="267.50" font-size="3.5" fill="#555" stroke="#555" stroke-width="0.1" text-anchor="middle">10³</text>
<text x="477.37" y="267.50" font-size="3.5" fill="#555" stroke="#555" stroke-width="0.1" text-anchor="middle">10³</text>
<text x="487.15" y="267.50" font-size="3.5" fill="#555" stroke="#555" stroke-width="0.1" text-anchor="middle">10³</text>
<clipPath id="cn6"><rect x="359.0" y="272.0" width="45.30000000000001" height="29.600000000000023"/></clipPath>
<rect x="359.0" y="272.0" width="45.30000000000001" height="29.600000000000023" fill="#fff"/>
<g clip-path="url(#cn6)">
<path d="M365.00 293.60 C365.33 293.25 366.42 292.43 367.00 291.50 C367.58 290.57 368.08 289.58 368.50 288.00 C368.92 286.42 369.17 283.83 369.50 282.00 C369.83 280.17 370.17 278.28 370.50 277.00 C370.83 275.72 371.08 274.90 371.50 274.30 C371.92 273.70 372.50 273.48 373.00 273.40 C373.50 273.32 374.03 273.20 374.50 273.80 C374.97 274.40 375.42 275.47 375.80 277.00 C376.18 278.53 376.43 281.08 376.80 283.00 C377.17 284.92 377.47 287.33 378.00 288.50 C378.53 289.67 379.17 289.43 380.00 290.00 C380.83 290.57 382.17 291.37 383.00 291.90 C383.83 292.43 384.50 292.92 385.00 293.20 C385.50 293.48 385.83 293.53 386.00 293.60 L386.00 293.80 L365.00 293.80 Z" fill="#b0b0b0" stroke="none"/>
<path d="M365.00 293.60 C365.33 293.25 366.42 292.43 367.00 291.50 C367.58 290.57 368.08 289.58 368.50 288.00 C368.92 286.42 369.17 283.83 369.50 282.00 C369.83 280.17 370.17 278.28 370.50 277.00 C370.83 275.72 371.08 274.90 371.50 274.30 C371.92 273.70 372.50 273.48 373.00 273.40 C373.50 273.32 374.03 273.20 374.50 273.80 C374.97 274.40 375.42 275.47 375.80 277.00 C376.18 278.53 376.43 281.08 376.80 283.00 C377.17 284.92 377.47 287.33 378.00 288.50 C378.53 289.67 379.17 289.43 380.00 290.00 C380.83 290.57 382.17 291.37 383.00 291.90 C383.83 292.43 384.50 292.92 385.00 293.20 C385.50 293.48 385.83 293.53 386.00 293.60" fill="none" stroke="#6e6e6e" stroke-width="0.6"/>
<path d="M359.60 286.00 C359.63 287.40 358.73 293.00 359.80 294.40 C360.87 295.80 360.97 294.40 366.00 294.40 C371.03 294.40 385.33 295.13 390.00 294.40 C394.67 293.67 392.92 291.90 394.00 290.00 C395.08 288.10 395.75 285.17 396.50 283.00 C397.25 280.83 398.02 278.25 398.50 277.00 C398.98 275.75 399.07 275.33 399.40 275.50 C399.73 275.67 400.15 276.25 400.50 278.00 C400.85 279.75 401.17 283.67 401.50 286.00 C401.83 288.33 402.17 290.67 402.50 292.00 C402.83 293.33 403.25 294.33 403.50 294.00 C403.75 293.67 403.92 290.67 404.00 290.00 L404.00 303.60 L359.60 303.60 Z" fill="#ffffff" stroke="none"/>
<path d="M359.00 299.50 C363.83 299.42 382.50 299.92 388.00 299.00 C393.50 298.08 390.83 296.00 392.00 294.00 C393.17 292.00 394.17 288.92 395.00 287.00 C395.83 285.08 396.33 282.67 397.00 282.50 C397.67 282.33 398.33 284.25 399.00 286.00 C399.67 287.75 400.33 291.00 401.00 293.00 C401.67 295.00 402.42 296.92 403.00 298.00 C403.58 299.08 404.25 299.25 404.50 299.50 L404.50 303.60 L359.00 303.60 Z" fill="#ffffff" stroke="none"/>
<path d="M359.00 298.20 C362.50 298.17 375.83 299.20 380.00 298.00 C384.17 296.80 382.92 293.50 384.00 291.00 C385.08 288.50 385.75 285.15 386.50 283.00 C387.25 280.85 387.92 278.27 388.50 278.10 C389.08 277.93 389.50 280.02 390.00 282.00 C390.50 283.98 391.00 287.67 391.50 290.00 C392.00 292.33 392.25 294.58 393.00 296.00 C393.75 297.42 394.08 298.08 396.00 298.50 C397.92 298.92 403.08 298.50 404.50 298.50 L404.50 303.60 L359.00 303.60 Z" fill="#fcfff8" stroke="none"/>
<path d="M359.00 297.00 C363.33 296.92 380.00 297.33 385.00 296.50 C390.00 295.67 387.83 293.92 389.00 292.00 C390.17 290.08 391.08 286.83 392.00 285.00 C392.92 283.17 393.67 281.00 394.50 281.00 C395.33 281.00 396.25 283.17 397.00 285.00 C397.75 286.83 398.17 290.00 399.00 292.00 C399.83 294.00 401.08 296.08 402.00 297.00 C402.92 297.92 404.08 297.42 404.50 297.50 L404.50 303.60 L359.00 303.60 Z" fill="#f3fbfb" stroke="none"/>
<path d="M359.00 297.00 C363.33 296.92 380.00 297.33 385.00 296.50 C390.00 295.67 387.83 293.92 389.00 292.00 C390.17 290.08 391.08 286.83 392.00 285.00 C392.92 283.17 393.67 281.00 394.50 281.00 C395.33 281.00 396.25 283.17 397.00 285.00 C397.75 286.83 398.17 290.00 399.00 292.00 C399.83 294.00 401.08 296.08 402.00 297.00 C402.92 297.92 404.08 297.42 404.50 297.50" fill="none" stroke="#9ee2e6" stroke-width="0.8"/>
<path d="M359.00 299.50 C363.83 299.42 382.50 299.92 388.00 299.00 C393.50 298.08 390.83 296.00 392.00 294.00 C393.17 292.00 394.17 288.92 395.00 287.00 C395.83 285.08 396.33 282.67 397.00 282.50 C397.67 282.33 398.33 284.25 399.00 286.00 C399.67 287.75 400.33 291.00 401.00 293.00 C401.67 295.00 402.42 296.92 403.00 298.00 C403.58 299.08 404.25 299.25 404.50 299.50" fill="none" stroke="#e3a468" stroke-width="0.8"/>
<path d="M359.00 298.20 C362.50 298.17 375.83 299.20 380.00 298.00 C384.17 296.80 382.92 293.50 384.00 291.00 C385.08 288.50 385.75 285.15 386.50 283.00 C387.25 280.85 387.92 278.27 388.50 278.10 C389.08 277.93 389.50 280.02 390.00 282.00 C390.50 283.98 391.00 287.67 391.50 290.00 C392.00 292.33 392.25 294.58 393.00 296.00 C393.75 297.42 394.08 298.08 396.00 298.50 C397.92 298.92 403.08 298.50 404.50 298.50" fill="none" stroke="#9fd466" stroke-width="0.8"/>
<path d="M359.60 286.00 C359.63 287.40 358.73 293.00 359.80 294.40 C360.87 295.80 360.97 294.40 366.00 294.40 C371.03 294.40 385.33 295.13 390.00 294.40 C394.67 293.67 392.92 291.90 394.00 290.00 C395.08 288.10 395.75 285.17 396.50 283.00 C397.25 280.83 398.02 278.25 398.50 277.00 C398.98 275.75 399.07 275.33 399.40 275.50 C399.73 275.67 400.15 276.25 400.50 278.00 C400.85 279.75 401.17 283.67 401.50 286.00 C401.83 288.33 402.17 290.67 402.50 292.00 C402.83 293.33 403.25 294.33 403.50 294.00 C403.75 293.67 403.92 290.67 404.00 290.00" fill="none" stroke="#3a3aa8" stroke-width="0.8"/>
</g>
<rect x="359.0" y="272.0" width="45.30000000000001" height="29.600000000000023" fill="none" stroke="#c4c4c4" stroke-width="0.8"/>
<text x="364.21" y="305.50" font-size="3.8" fill="#555" text-anchor="middle">-</text>
<text x="368.74" y="305.50" font-size="3.5" fill="#555" stroke="#555" stroke-width="0.1" text-anchor="middle">10³</text>
<text x="379.38" y="305.50" font-size="3.5" fill="#555" stroke="#555" stroke-width="0.1" text-anchor="middle">10³</text>
<text x="390.03" y="305.50" font-size="3.5" fill="#555" stroke="#555" stroke-width="0.1" text-anchor="middle">10³</text>
<text x="399.77" y="305.50" font-size="3.5" fill="#555" stroke="#555" stroke-width="0.1" text-anchor="middle">10³</text>
<clipPath id="ct6"><rect x="446.2" y="272.0" width="45.5" height="29.600000000000023"/></clipPath>
<rect x="446.2" y="272.0" width="45.5" height="29.600000000000023" fill="#fff"/>
<g clip-path="url(#ct6)">
<path d="M450.00 291.00 C450.33 290.75 451.45 290.42 452.00 289.50 C452.55 288.58 452.88 287.25 453.30 285.50 C453.72 283.75 454.10 280.92 454.50 279.00 C454.90 277.08 455.28 275.12 455.70 274.00 C456.12 272.88 456.45 272.58 457.00 272.30 C457.55 272.02 458.45 271.85 459.00 272.30 C459.55 272.75 459.92 273.55 460.30 275.00 C460.68 276.45 460.97 279.08 461.30 281.00 C461.63 282.92 461.85 285.20 462.30 286.50 C462.75 287.80 463.38 288.33 464.00 288.80 C464.62 289.27 465.00 289.02 466.00 289.30 C467.00 289.58 469.00 290.22 470.00 290.50 C471.00 290.78 471.67 290.92 472.00 291.00 L472.00 291.20 L450.00 291.20 Z" fill="#b0b0b0" stroke="none"/>
<path d="M450.00 291.00 C450.33 290.75 451.45 290.42 452.00 289.50 C452.55 288.58 452.88 287.25 453.30 285.50 C453.72 283.75 454.10 280.92 454.50 279.00 C454.90 277.08 455.28 275.12 455.70 274.00 C456.12 272.88 456.45 272.58 457.00 272.30 C457.55 272.02 458.45 271.85 459.00 272.30 C459.55 272.75 459.92 273.55 460.30 275.00 C460.68 276.45 460.97 279.08 461.30 281.00 C461.63 282.92 461.85 285.20 462.30 286.50 C462.75 287.80 463.38 288.33 464.00 288.80 C464.62 289.27 465.00 289.02 466.00 289.30 C467.00 289.58 469.00 290.22 470.00 290.50 C471.00 290.78 471.67 290.92 472.00 291.00" fill="none" stroke="#6e6e6e" stroke-width="0.6"/>
<path d="M446.20 288.00 C446.23 289.17 445.77 294.17 446.40 295.00 C447.03 295.83 445.40 293.33 450.00 293.00 C454.60 292.67 469.50 293.67 474.00 293.00 C478.50 292.33 476.17 290.83 477.00 289.00 C477.83 287.17 478.42 284.17 479.00 282.00 C479.58 279.83 480.10 277.20 480.50 276.00 C480.90 274.80 481.07 274.47 481.40 274.80 C481.73 275.13 482.07 276.47 482.50 278.00 C482.93 279.53 483.50 282.25 484.00 284.00 C484.50 285.75 485.00 287.17 485.50 288.50 C486.00 289.83 486.42 291.25 487.00 292.00 C487.58 292.75 488.42 293.17 489.00 293.00 C489.58 292.83 490.00 291.17 490.50 291.00 C491.00 290.83 491.75 291.83 492.00 292.00 L492.00 303.60 L446.20 303.60 Z" fill="#ffffff" stroke="none"/>
<path d="M445.50 298.50 C449.92 298.42 466.92 298.92 472.00 298.00 C477.08 297.08 474.83 295.00 476.00 293.00 C477.17 291.00 478.08 288.17 479.00 286.00 C479.92 283.83 480.67 280.17 481.50 280.00 C482.33 279.83 483.25 283.17 484.00 285.00 C484.75 286.83 485.33 289.50 486.00 291.00 C486.67 292.50 487.33 293.67 488.00 294.00 C488.67 294.33 489.33 293.00 490.00 293.00 C490.67 293.00 491.67 293.83 492.00 294.00 L492.00 303.60 L445.50 303.60 Z" fill="#ffffff" stroke="none"/>
<path d="M445.50 296.20 C448.75 296.17 461.08 296.53 465.00 296.00 C468.92 295.47 467.83 294.50 469.00 293.00 C470.17 291.50 471.08 289.00 472.00 287.00 C472.92 285.00 473.75 282.62 474.50 281.00 C475.25 279.38 475.83 277.13 476.50 277.30 C477.17 277.47 477.92 279.88 478.50 282.00 C479.08 284.12 479.42 287.75 480.00 290.00 C480.58 292.25 481.17 294.42 482.00 295.50 C482.83 296.58 483.33 296.33 485.00 296.50 C486.67 296.67 490.83 296.50 492.00 296.50 L492.00 303.60 L445.50 303.60 Z" fill="#fcfff8" stroke="none"/>
<path d="M445.50 297.00 C448.92 296.92 461.92 297.50 466.00 296.50 C470.08 295.50 468.92 293.25 470.00 291.00 C471.08 288.75 471.75 285.00 472.50 283.00 C473.25 281.00 473.75 279.00 474.50 279.00 C475.25 279.00 476.25 281.00 477.00 283.00 C477.75 285.00 478.17 288.75 479.00 291.00 C479.83 293.25 479.83 295.50 482.00 296.50 C484.17 297.50 490.33 296.92 492.00 297.00 L492.00 303.60 L445.50 303.60 Z" fill="#f3fbfb" stroke="none"/>
<path d="M445.50 297.00 C448.92 296.92 461.92 297.50 466.00 296.50 C470.08 295.50 468.92 293.25 470.00 291.00 C471.08 288.75 471.75 285.00 472.50 283.00 C473.25 281.00 473.75 279.00 474.50 279.00 C475.25 279.00 476.25 281.00 477.00 283.00 C477.75 285.00 478.17 288.75 479.00 291.00 C479.83 293.25 479.83 295.50 482.00 296.50 C484.17 297.50 490.33 296.92 492.00 297.00" fill="none" stroke="#9ee2e6" stroke-width="0.8"/>
<path d="M445.50 298.50 C449.92 298.42 466.92 298.92 472.00 298.00 C477.08 297.08 474.83 295.00 476.00 293.00 C477.17 291.00 478.08 288.17 479.00 286.00 C479.92 283.83 480.67 280.17 481.50 280.00 C482.33 279.83 483.25 283.17 484.00 285.00 C484.75 286.83 485.33 289.50 486.00 291.00 C486.67 292.50 487.33 293.67 488.00 294.00 C488.67 294.33 489.33 293.00 490.00 293.00 C490.67 293.00 491.67 293.83 492.00 294.00" fill="none" stroke="#e3a468" stroke-width="0.8"/>
<path d="M445.50 296.20 C448.75 296.17 461.08 296.53 465.00 296.00 C468.92 295.47 467.83 294.50 469.00 293.00 C470.17 291.50 471.08 289.00 472.00 287.00 C472.92 285.00 473.75 282.62 474.50 281.00 C475.25 279.38 475.83 277.13 476.50 277.30 C477.17 277.47 477.92 279.88 478.50 282.00 C479.08 284.12 479.42 287.75 480.00 290.00 C480.58 292.25 481.17 294.42 482.00 295.50 C482.83 296.58 483.33 296.33 485.00 296.50 C486.67 296.67 490.83 296.50 492.00 296.50" fill="none" stroke="#9fd466" stroke-width="0.8"/>
<path d="M446.20 288.00 C446.23 289.17 445.77 294.17 446.40 295.00 C447.03 295.83 445.40 293.33 450.00 293.00 C454.60 292.67 469.50 293.67 474.00 293.00 C478.50 292.33 476.17 290.83 477.00 289.00 C477.83 287.17 478.42 284.17 479.00 282.00 C479.58 279.83 480.10 277.20 480.50 276.00 C480.90 274.80 481.07 274.47 481.40 274.80 C481.73 275.13 482.07 276.47 482.50 278.00 C482.93 279.53 483.50 282.25 484.00 284.00 C484.50 285.75 485.00 287.17 485.50 288.50 C486.00 289.83 486.42 291.25 487.00 292.00 C487.58 292.75 488.42 293.17 489.00 293.00 C489.58 292.83 490.00 291.17 490.50 291.00 C491.00 290.83 491.75 291.83 492.00 292.00" fill="none" stroke="#3a3aa8" stroke-width="0.8"/>
</g>
<rect x="446.2" y="272.0" width="45.5" height="29.600000000000023" fill="none" stroke="#c4c4c4" stroke-width="0.8"/>
<text x="451.43" y="305.50" font-size="3.8" fill="#555" text-anchor="middle">-</text>
<text x="455.98" y="305.50" font-size="3.5" fill="#555" stroke="#555" stroke-width="0.1" text-anchor="middle">10³</text>
<text x="466.68" y="305.50" font-size="3.5" fill="#555" stroke="#555" stroke-width="0.1" text-anchor="middle">10³</text>
<text x="477.37" y="305.50" font-size="3.5" fill="#555" stroke="#555" stroke-width="0.1" text-anchor="middle">10³</text>
<text x="487.15" y="305.50" font-size="3.5" fill="#555" stroke="#555" stroke-width="0.1" text-anchor="middle">10³</text>
<line x1="408.9" y1="38.6" x2="408.9" y2="67.5" stroke="#d4d4e4" stroke-width="0.8"/>
<rect x="410.50" y="64.10" width="3.30" height="3.40" fill="#a9a9a9" stroke="#666" stroke-width="0.4"/>
<rect x="414.20" y="40.20" width="3.30" height="27.30" fill="#9de04a" stroke="#4a7a1a" stroke-width="0.4"/>
<rect x="417.90" y="61.20" width="3.30" height="6.30" fill="#1f2fc8" stroke="#101870" stroke-width="0.4"/>
<rect x="421.60" y="61.20" width="3.30" height="6.30" fill="#e07f34" stroke="#7a4010" stroke-width="0.4"/>
<rect x="425.30" y="61.00" width="3.30" height="6.50" fill="#9ff0f0" stroke="#3a8a8a" stroke-width="0.4"/>
<line x1="496.6" y1="38.6" x2="496.6" y2="67.6" stroke="#d4d4e4" stroke-width="0.8"/>
<rect x="497.40" y="61.20" width="3.30" height="6.40" fill="#a9a9a9" stroke="#666" stroke-width="0.4"/>
<rect x="501.10" y="53.60" width="3.30" height="14.00" fill="#9de04a" stroke="#4a7a1a" stroke-width="0.4"/>
<rect x="504.80" y="53.60" width="3.30" height="14.00" fill="#1f2fc8" stroke="#101870" stroke-width="0.4"/>
<rect x="508.50" y="53.60" width="3.30" height="14.00" fill="#e07f34" stroke="#7a4010" stroke-width="0.4"/>
<rect x="512.20" y="53.60" width="3.30" height="14.00" fill="#9ff0f0" stroke="#3a8a8a" stroke-width="0.4"/>
<line x1="408.9" y1="74.6" x2="408.9" y2="104.4" stroke="#d4d4e4" stroke-width="0.8"/>
<rect x="412.00" y="98.00" width="3.30" height="6.40" fill="#a9a9a9" stroke="#666" stroke-width="0.4"/>
<rect x="415.70" y="94.20" width="3.30" height="10.20" fill="#9de04a" stroke="#4a7a1a" stroke-width="0.4"/>
<rect x="419.40" y="78.80" width="3.30" height="25.60" fill="#1f2fc8" stroke="#101870" stroke-width="0.4"/>
<rect x="423.10" y="80.00" width="3.30" height="24.40" fill="#e07f34" stroke="#7a4010" stroke-width="0.4"/>
<rect x="426.80" y="78.50" width="3.30" height="25.90" fill="#9ff0f0" stroke="#3a8a8a" stroke-width="0.4"/>
<line x1="496.6" y1="74.6" x2="496.6" y2="104.3" stroke="#d4d4e4" stroke-width="0.8"/>
<rect x="499.20" y="101.50" width="3.30" height="2.80" fill="#a9a9a9" stroke="#666" stroke-width="0.4"/>
<rect x="502.90" y="100.50" width="3.30" height="3.80" fill="#9de04a" stroke="#4a7a1a" stroke-width="0.4"/>
<rect x="506.60" y="100.50" width="3.30" height="3.80" fill="#1f2fc8" stroke="#101870" stroke-width="0.4"/>
<rect x="510.30" y="100.80" width="3.30" height="3.50" fill="#e07f34" stroke="#7a4010" stroke-width="0.4"/>
<rect x="514.00" y="100.60" width="3.30" height="3.70" fill="#9ff0f0" stroke="#3a8a8a" stroke-width="0.4"/>
<line x1="408.9" y1="114.1" x2="408.9" y2="145.5" stroke="#d4d4e4" stroke-width="0.8"/>
<rect x="411.40" y="144.80" width="3.30" height="0.70" fill="#a9a9a9" stroke="#666" stroke-width="0.4"/>
<rect x="415.10" y="140.60" width="3.30" height="4.90" fill="#9de04a" stroke="#4a7a1a" stroke-width="0.4"/>
<rect x="418.80" y="121.90" width="3.30" height="23.60" fill="#1f2fc8" stroke="#101870" stroke-width="0.4"/>
<rect x="422.50" y="132.90" width="3.30" height="12.60" fill="#e07f34" stroke="#7a4010" stroke-width="0.4"/>
<rect x="426.20" y="118.10" width="3.30" height="27.40" fill="#9ff0f0" stroke="#3a8a8a" stroke-width="0.4"/>
<line x1="496.6" y1="114.1" x2="496.6" y2="145.6" stroke="#d4d4e4" stroke-width="0.8"/>
<rect x="499.00" y="142.50" width="3.30" height="3.10" fill="#a9a9a9" stroke="#666" stroke-width="0.4"/>
<rect x="502.70" y="139.60" width="3.30" height="6.00" fill="#9de04a" stroke="#4a7a1a" stroke-width="0.4"/>
<rect x="506.40" y="140.50" width="3.30" height="5.10" fill="#1f2fc8" stroke="#101870" stroke-width="0.4"/>
<rect x="510.10" y="140.50" width="3.30" height="5.10" fill="#e07f34" stroke="#7a4010" stroke-width="0.4"/>
<rect x="513.80" y="140.50" width="3.30" height="5.10" fill="#9ff0f0" stroke="#3a8a8a" stroke-width="0.4"/>
<line x1="408.9" y1="154.6" x2="408.9" y2="185.5" stroke="#d4d4e4" stroke-width="0.8"/>
<rect x="410.40" y="180.60" width="3.30" height="4.90" fill="#a9a9a9" stroke="#666" stroke-width="0.4"/>
<rect x="414.10" y="172.30" width="3.30" height="13.20" fill="#9de04a" stroke="#4a7a1a" stroke-width="0.4"/>
<rect x="417.80" y="158.80" width="3.30" height="26.70" fill="#1f2fc8" stroke="#101870" stroke-width="0.4"/>
<rect x="421.50" y="160.00" width="3.30" height="25.50" fill="#e07f34" stroke="#7a4010" stroke-width="0.4"/>
<rect x="425.20" y="156.20" width="3.30" height="29.30" fill="#9ff0f0" stroke="#3a8a8a" stroke-width="0.4"/>
<line x1="496.6" y1="154.6" x2="496.6" y2="186.2" stroke="#d4d4e4" stroke-width="0.8"/>
<rect x="499.10" y="177.90" width="3.30" height="8.30" fill="#a9a9a9" stroke="#666" stroke-width="0.4"/>
<rect x="502.80" y="169.20" width="3.30" height="17.00" fill="#9de04a" stroke="#4a7a1a" stroke-width="0.4"/>
<rect x="506.50" y="168.40" width="3.30" height="17.80" fill="#1f2fc8" stroke="#101870" stroke-width="0.4"/>
<rect x="510.20" y="169.20" width="3.30" height="17.00" fill="#e07f34" stroke="#7a4010" stroke-width="0.4"/>
<rect x="513.90" y="169.20" width="3.30" height="17.00" fill="#9ff0f0" stroke="#3a8a8a" stroke-width="0.4"/>
<line x1="408.9" y1="194.6" x2="408.9" y2="225.0" stroke="#d4d4e4" stroke-width="0.8"/>
<rect x="411.00" y="223.30" width="3.30" height="1.70" fill="#a9a9a9" stroke="#666" stroke-width="0.4"/>
<rect x="414.70" y="201.90" width="3.30" height="23.10" fill="#9de04a" stroke="#4a7a1a" stroke-width="0.4"/>
<rect x="418.40" y="220.60" width="3.30" height="4.40" fill="#1f2fc8" stroke="#101870" stroke-width="0.4"/>
<rect x="422.10" y="220.60" width="3.30" height="4.40" fill="#e07f34" stroke="#7a4010" stroke-width="0.4"/>
<rect x="425.80" y="221.50" width="3.30" height="3.50" fill="#9ff0f0" stroke="#3a8a8a" stroke-width="0.4"/>
<line x1="496.6" y1="194.6" x2="496.6" y2="225.3" stroke="#d4d4e4" stroke-width="0.8"/>
<rect x="499.10" y="220.50" width="3.30" height="4.80" fill="#a9a9a9" stroke="#666" stroke-width="0.4"/>
<rect x="502.80" y="196.20" width="3.30" height="29.10" fill="#9de04a" stroke="#4a7a1a" stroke-width="0.4"/>
<rect x="506.50" y="207.50" width="3.30" height="17.80" fill="#1f2fc8" stroke="#101870" stroke-width="0.4"/>
<rect x="510.20" y="203.70" width="3.30" height="21.60" fill="#e07f34" stroke="#7a4010" stroke-width="0.4"/>
<rect x="513.90" y="207.10" width="3.30" height="18.20" fill="#9ff0f0" stroke="#3a8a8a" stroke-width="0.4"/>
<line x1="408.9" y1="234.2" x2="408.9" y2="264.2" stroke="#d4d4e4" stroke-width="0.8"/>
<rect x="411.70" y="257.30" width="3.30" height="6.90" fill="#a9a9a9" stroke="#666" stroke-width="0.4"/>
<rect x="415.40" y="249.60" width="3.30" height="14.60" fill="#9de04a" stroke="#4a7a1a" stroke-width="0.4"/>
<rect x="419.10" y="236.50" width="3.30" height="27.70" fill="#1f2fc8" stroke="#101870" stroke-width="0.4"/>
<rect x="422.80" y="236.00" width="3.30" height="28.20" fill="#e07f34" stroke="#7a4010" stroke-width="0.4"/>
<rect x="426.50" y="241.90" width="3.30" height="22.30" fill="#9ff0f0" stroke="#3a8a8a" stroke-width="0.4"/>
<line x1="496.6" y1="234.2" x2="496.6" y2="263.4" stroke="#d4d4e4" stroke-width="0.8"/>
<rect x="499.10" y="257.00" width="3.30" height="6.40" fill="#a9a9a9" stroke="#666" stroke-width="0.4"/>
<rect x="502.80" y="245.40" width="3.30" height="18.00" fill="#9de04a" stroke="#4a7a1a" stroke-width="0.4"/>
<rect x="506.50" y="245.40" width="3.30" height="18.00" fill="#1f2fc8" stroke="#101870" stroke-width="0.4"/>
<rect x="510.20" y="244.90" width="3.30" height="18.50" fill="#e07f34" stroke="#7a4010" stroke-width="0.4"/>
<rect x="513.90" y="242.30" width="3.30" height="21.10" fill="#9ff0f0" stroke="#3a8a8a" stroke-width="0.4"/>
<line x1="408.9" y1="273.0" x2="408.9" y2="302.2" stroke="#d4d4e4" stroke-width="0.8"/>
<rect x="411.70" y="296.20" width="3.30" height="6.00" fill="#a9a9a9" stroke="#666" stroke-width="0.4"/>
<rect x="415.40" y="288.50" width="3.30" height="13.70" fill="#9de04a" stroke="#4a7a1a" stroke-width="0.4"/>
<rect x="419.10" y="276.90" width="3.30" height="25.30" fill="#1f2fc8" stroke="#101870" stroke-width="0.4"/>
<rect x="422.80" y="276.20" width="3.30" height="26.00" fill="#e07f34" stroke="#7a4010" stroke-width="0.4"/>
<rect x="426.50" y="281.90" width="3.30" height="20.30" fill="#9ff0f0" stroke="#3a8a8a" stroke-width="0.4"/>
<line x1="496.6" y1="273.0" x2="496.6" y2="301.9" stroke="#d4d4e4" stroke-width="0.8"/>
<rect x="498.00" y="296.00" width="3.30" height="5.90" fill="#a9a9a9" stroke="#666" stroke-width="0.4"/>
<rect x="501.70" y="285.60" width="3.30" height="16.30" fill="#9de04a" stroke="#4a7a1a" stroke-width="0.4"/>
<rect x="505.40" y="286.80" width="3.30" height="15.10" fill="#1f2fc8" stroke="#101870" stroke-width="0.4"/>
<rect x="509.10" y="286.00" width="3.30" height="15.90" fill="#e07f34" stroke="#7a4010" stroke-width="0.4"/>
<rect x="512.80" y="283.40" width="3.30" height="18.50" fill="#9ff0f0" stroke="#3a8a8a" stroke-width="0.4"/>
<rect x="353.3" y="309.6" width="5.6" height="6.0" fill="#8fdc3a" stroke="#3f7a10" stroke-width="0.9"/>
<text x="363.00" y="314.90" font-size="7.4" text-anchor="start" fill="#1a1a1a" stroke="#1a1a1a" stroke-width="0.25" textLength="5.40" lengthAdjust="spacingAndGlyphs">FL</text>
<rect x="376.6" y="309.6" width="5.6" height="6.0" fill="#e07f34" stroke="#8a4510" stroke-width="0.9"/>
<text x="385.60" y="314.90" font-size="7.4" text-anchor="start" fill="#1a1a1a" stroke="#1a1a1a" stroke-width="0.25" textLength="12.20" lengthAdjust="spacingAndGlyphs">PSM</text>
<rect x="404.9" y="309.6" width="5.6" height="6.0" fill="#a5f0f2" stroke="#3a8a90" stroke-width="0.9"/>
<text x="413.00" y="314.90" font-size="7.4" text-anchor="start" fill="#1a1a1a" stroke="#1a1a1a" stroke-width="0.25" textLength="16.50" lengthAdjust="spacingAndGlyphs">V75M</text>
<rect x="438.9" y="309.6" width="5.6" height="6.0" fill="#1428d0" stroke="#0a1470" stroke-width="0.9"/>
<text x="447.00" y="314.90" font-size="7.4" text-anchor="start" fill="#1a1a1a" stroke="#1a1a1a" stroke-width="0.25" textLength="7.60" lengthAdjust="spacingAndGlyphs">UT</text>
<rect x="464.4" y="309.6" width="5.6" height="6.0" fill="#c4c4c4" stroke="#555" stroke-width="0.9"/>
<text x="472.90" y="314.90" font-size="7.4" text-anchor="start" fill="#1a1a1a" stroke="#1a1a1a" stroke-width="0.25" textLength="45.20" lengthAdjust="spacingAndGlyphs">Isotype control</text>
</g></svg></div>
</body></html>
